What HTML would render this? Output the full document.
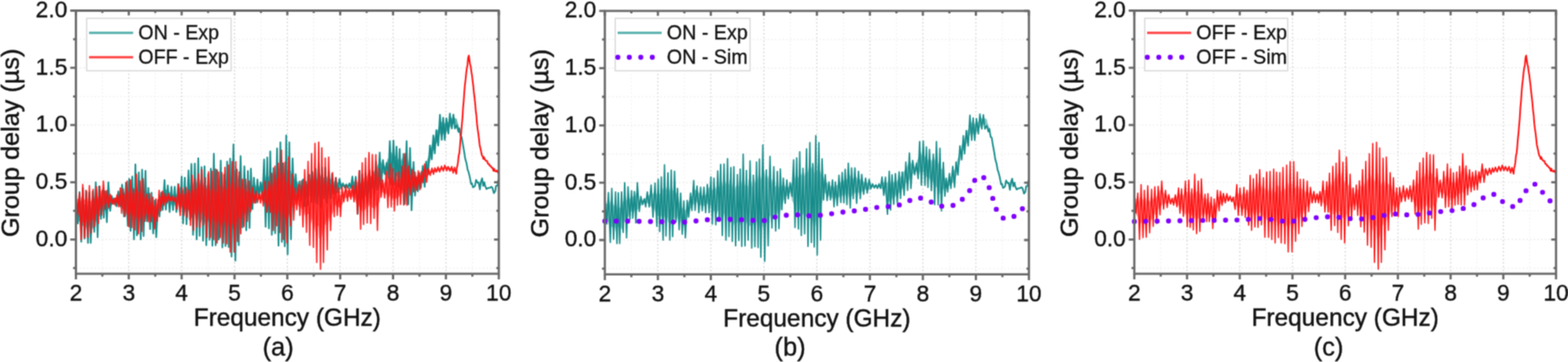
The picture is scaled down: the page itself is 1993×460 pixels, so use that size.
<!DOCTYPE html>
<html><head><meta charset="utf-8"><title>Group delay</title>
<style>html,body{margin:0;padding:0;background:#fff;}body{width:1993px;height:460px;overflow:hidden;}svg{display:block;}</style>
</head><body>
<svg width="1993" height="460" viewBox="0 0 1993 460" font-family='"Liberation Sans", Arial, sans-serif'><defs><filter id="bl" x="0" y="0" width="1993" height="460" color-interpolation-filters="sRGB" filterUnits="userSpaceOnUse"><feConvolveMatrix order="3" kernelMatrix="0.04387 0.12171 0.04387 0.12171 0.33767 0.12171 0.04387 0.12171 0.04387" edgeMode="duplicate" preserveAlpha="true"/></filter></defs><rect width="100%" height="100%" fill="#fff"/><g filter="url(#bl)"><rect width="1993" height="460" fill="#fff"/><g stroke-width="1.4" stroke-dasharray="2 2.7" fill="none"><line x1="130.1" y1="13.5" x2="130.1" y2="347.9" stroke="#f2f2f2"/><line x1="163.7" y1="13.5" x2="163.7" y2="347.9" stroke="#d9d9d9" stroke-width="1.6"/><line x1="197.3" y1="13.5" x2="197.3" y2="347.9" stroke="#f2f2f2"/><line x1="230.9" y1="13.5" x2="230.9" y2="347.9" stroke="#d9d9d9" stroke-width="1.6"/><line x1="264.5" y1="13.5" x2="264.5" y2="347.9" stroke="#f2f2f2"/><line x1="298.1" y1="13.5" x2="298.1" y2="347.9" stroke="#d9d9d9" stroke-width="1.6"/><line x1="331.7" y1="13.5" x2="331.7" y2="347.9" stroke="#f2f2f2"/><line x1="365.2" y1="13.5" x2="365.2" y2="347.9" stroke="#d9d9d9" stroke-width="1.6"/><line x1="398.8" y1="13.5" x2="398.8" y2="347.9" stroke="#f2f2f2"/><line x1="432.4" y1="13.5" x2="432.4" y2="347.9" stroke="#d9d9d9" stroke-width="1.6"/><line x1="466.0" y1="13.5" x2="466.0" y2="347.9" stroke="#f2f2f2"/><line x1="499.6" y1="13.5" x2="499.6" y2="347.9" stroke="#d9d9d9" stroke-width="1.6"/><line x1="533.2" y1="13.5" x2="533.2" y2="347.9" stroke="#f2f2f2"/><line x1="566.8" y1="13.5" x2="566.8" y2="347.9" stroke="#d9d9d9" stroke-width="1.6"/><line x1="600.4" y1="13.5" x2="600.4" y2="347.9" stroke="#f2f2f2"/><line x1="96.5" y1="340.7" x2="634.0" y2="340.7" stroke="#f0f0f0"/><line x1="96.5" y1="304.3" x2="634.0" y2="304.3" stroke="#ebebeb"/><line x1="96.5" y1="267.9" x2="634.0" y2="267.9" stroke="#f0f0f0"/><line x1="96.5" y1="231.6" x2="634.0" y2="231.6" stroke="#ebebeb"/><line x1="96.5" y1="195.2" x2="634.0" y2="195.2" stroke="#f0f0f0"/><line x1="96.5" y1="158.9" x2="634.0" y2="158.9" stroke="#ebebeb"/><line x1="96.5" y1="122.6" x2="634.0" y2="122.6" stroke="#f0f0f0"/><line x1="96.5" y1="86.2" x2="634.0" y2="86.2" stroke="#ebebeb"/><line x1="96.5" y1="49.8" x2="634.0" y2="49.8" stroke="#f0f0f0"/></g>
<g stroke-width="1.4" stroke-dasharray="2 2.7" fill="none"><line x1="802.5" y1="13.8" x2="802.5" y2="348.7" stroke="#f2f2f2"/><line x1="836.2" y1="13.8" x2="836.2" y2="348.7" stroke="#d9d9d9" stroke-width="1.6"/><line x1="869.9" y1="13.8" x2="869.9" y2="348.7" stroke="#f2f2f2"/><line x1="903.5" y1="13.8" x2="903.5" y2="348.7" stroke="#d9d9d9" stroke-width="1.6"/><line x1="937.2" y1="13.8" x2="937.2" y2="348.7" stroke="#f2f2f2"/><line x1="970.9" y1="13.8" x2="970.9" y2="348.7" stroke="#d9d9d9" stroke-width="1.6"/><line x1="1004.6" y1="13.8" x2="1004.6" y2="348.7" stroke="#f2f2f2"/><line x1="1038.3" y1="13.8" x2="1038.3" y2="348.7" stroke="#d9d9d9" stroke-width="1.6"/><line x1="1072.0" y1="13.8" x2="1072.0" y2="348.7" stroke="#f2f2f2"/><line x1="1105.7" y1="13.8" x2="1105.7" y2="348.7" stroke="#d9d9d9" stroke-width="1.6"/><line x1="1139.4" y1="13.8" x2="1139.4" y2="348.7" stroke="#f2f2f2"/><line x1="1173.0" y1="13.8" x2="1173.0" y2="348.7" stroke="#d9d9d9" stroke-width="1.6"/><line x1="1206.7" y1="13.8" x2="1206.7" y2="348.7" stroke="#f2f2f2"/><line x1="1240.4" y1="13.8" x2="1240.4" y2="348.7" stroke="#d9d9d9" stroke-width="1.6"/><line x1="1274.1" y1="13.8" x2="1274.1" y2="348.7" stroke="#f2f2f2"/><line x1="768.8" y1="341.4" x2="1307.8" y2="341.4" stroke="#f0f0f0"/><line x1="768.8" y1="305.0" x2="1307.8" y2="305.0" stroke="#ebebeb"/><line x1="768.8" y1="268.6" x2="1307.8" y2="268.6" stroke="#f0f0f0"/><line x1="768.8" y1="232.2" x2="1307.8" y2="232.2" stroke="#ebebeb"/><line x1="768.8" y1="195.8" x2="1307.8" y2="195.8" stroke="#f0f0f0"/><line x1="768.8" y1="159.4" x2="1307.8" y2="159.4" stroke="#ebebeb"/><line x1="768.8" y1="123.0" x2="1307.8" y2="123.0" stroke="#f0f0f0"/><line x1="768.8" y1="86.6" x2="1307.8" y2="86.6" stroke="#ebebeb"/><line x1="768.8" y1="50.2" x2="1307.8" y2="50.2" stroke="#f0f0f0"/></g>
<g stroke-width="1.4" stroke-dasharray="2 2.7" fill="none"><line x1="1475.3" y1="13.5" x2="1475.3" y2="347.9" stroke="#f2f2f2"/><line x1="1508.8" y1="13.5" x2="1508.8" y2="347.9" stroke="#d9d9d9" stroke-width="1.6"/><line x1="1542.3" y1="13.5" x2="1542.3" y2="347.9" stroke="#f2f2f2"/><line x1="1575.8" y1="13.5" x2="1575.8" y2="347.9" stroke="#d9d9d9" stroke-width="1.6"/><line x1="1609.3" y1="13.5" x2="1609.3" y2="347.9" stroke="#f2f2f2"/><line x1="1642.8" y1="13.5" x2="1642.8" y2="347.9" stroke="#d9d9d9" stroke-width="1.6"/><line x1="1676.3" y1="13.5" x2="1676.3" y2="347.9" stroke="#f2f2f2"/><line x1="1709.8" y1="13.5" x2="1709.8" y2="347.9" stroke="#d9d9d9" stroke-width="1.6"/><line x1="1743.3" y1="13.5" x2="1743.3" y2="347.9" stroke="#f2f2f2"/><line x1="1776.8" y1="13.5" x2="1776.8" y2="347.9" stroke="#d9d9d9" stroke-width="1.6"/><line x1="1810.3" y1="13.5" x2="1810.3" y2="347.9" stroke="#f2f2f2"/><line x1="1843.8" y1="13.5" x2="1843.8" y2="347.9" stroke="#d9d9d9" stroke-width="1.6"/><line x1="1877.3" y1="13.5" x2="1877.3" y2="347.9" stroke="#f2f2f2"/><line x1="1910.8" y1="13.5" x2="1910.8" y2="347.9" stroke="#d9d9d9" stroke-width="1.6"/><line x1="1944.3" y1="13.5" x2="1944.3" y2="347.9" stroke="#f2f2f2"/><line x1="1441.8" y1="340.7" x2="1977.8" y2="340.7" stroke="#f0f0f0"/><line x1="1441.8" y1="304.3" x2="1977.8" y2="304.3" stroke="#ebebeb"/><line x1="1441.8" y1="267.9" x2="1977.8" y2="267.9" stroke="#f0f0f0"/><line x1="1441.8" y1="231.6" x2="1977.8" y2="231.6" stroke="#ebebeb"/><line x1="1441.8" y1="195.2" x2="1977.8" y2="195.2" stroke="#f0f0f0"/><line x1="1441.8" y1="158.9" x2="1977.8" y2="158.9" stroke="#ebebeb"/><line x1="1441.8" y1="122.6" x2="1977.8" y2="122.6" stroke="#f0f0f0"/><line x1="1441.8" y1="86.2" x2="1977.8" y2="86.2" stroke="#ebebeb"/><line x1="1441.8" y1="49.8" x2="1977.8" y2="49.8" stroke="#f0f0f0"/></g>
<path d="M96.5 258.5 L97.2 259.5 L97.8 256.8 L98.5 258.6 L99.2 257.7 L99.9 258.0 L100.5 257.1 L101.2 255.2 L101.9 258.5 L102.5 260.3 L103.2 255.0 L103.9 254.6 L104.6 256.3 L105.2 259.5 L105.9 262.8 L106.6 255.8 L107.2 260.1 L107.9 259.4 L108.6 261.6 L109.3 257.8 L109.9 259.1 L110.6 257.7 L111.3 260.0 L112.0 264.7 L112.6 258.9 L113.3 261.8 L114.0 262.6 L114.6 262.5 L115.3 263.4 L116.0 264.5 L116.7 263.0 L117.3 258.0 L118.0 257.2 L118.7 260.1 L119.3 255.3 L120.0 253.9 L120.7 256.5 L121.4 254.6 L122.0 253.6 L122.7 250.4 L123.4 248.8 L124.0 253.7 L124.7 253.2 L125.4 252.5 L126.1 254.0 L126.7 251.9 L127.4 252.0 L128.1 252.2 L128.7 249.8 L129.4 250.7 L130.1 252.0 L130.8 250.5 L131.4 251.4 L132.1 248.9 L132.8 247.8 L133.5 249.9 L134.1 246.8 L134.8 247.8 L135.5 248.1 L136.1 243.9 L136.8 243.9 L137.5 245.2 L138.2 247.4 L138.8 250.2 L139.5 253.1 L140.2 254.0 L140.8 253.9 L141.5 254.4 L142.2 254.4 L142.9 253.8 L143.5 254.4 L144.2 254.3 L144.9 253.8 L145.5 252.9 L146.2 252.2 L146.9 252.0 L147.6 251.1 L148.2 250.8 L148.9 249.4 L149.6 248.6 L150.2 249.1 L150.9 247.6 L151.6 247.8 L152.3 247.2 L152.9 246.5 L153.6 248.7 L154.3 247.5 L155.0 244.7 L155.6 246.8 L156.3 244.0 L157.0 246.6 L157.6 243.1 L158.3 245.8 L159.0 245.3 L159.7 246.9 L160.3 242.7 L161.0 244.9 L161.7 246.2 L162.3 245.5 L163.0 241.3 L163.7 241.4 L164.4 243.7 L165.0 240.7 L165.7 245.9 L166.4 245.4 L167.0 247.1 L167.7 242.2 L168.4 239.0 L169.1 239.5 L169.7 237.9 L170.4 240.8 L171.1 241.0 L171.7 236.8 L172.4 232.8 L173.1 236.5 L173.8 237.1 L174.4 240.7 L175.1 239.4 L175.8 236.8 L176.5 237.1 L177.1 236.6 L177.8 242.8 L178.5 236.6 L179.1 242.8 L179.8 237.0 L180.5 243.3 L181.2 237.8 L181.8 237.4 L182.5 241.4 L183.2 241.4 L183.8 242.8 L184.5 244.7 L185.2 238.5 L185.9 247.9 L186.5 243.8 L187.2 244.3 L187.9 248.3 L188.5 246.7 L189.2 248.5 L189.9 249.8 L190.6 254.0 L191.2 257.4 L191.9 257.3 L192.6 255.1 L193.2 257.3 L193.9 262.6 L194.6 264.3 L195.3 262.8 L195.9 265.7 L196.6 264.5 L197.3 266.0 L198.0 266.0 L198.6 267.1 L199.3 264.3 L200.0 261.8 L200.6 261.6 L201.3 256.9 L202.0 256.9 L202.7 255.7 L203.3 254.3 L204.0 254.1 L204.7 252.8 L205.3 248.5 L206.0 248.6 L206.7 249.4 L207.4 246.1 L208.0 242.8 L208.7 242.9 L209.4 243.4 L210.0 242.2 L210.7 240.2 L211.4 241.0 L212.1 240.8 L212.7 240.0 L213.4 241.0 L214.1 241.3 L214.7 242.8 L215.4 244.1 L216.1 244.6 L216.8 245.4 L217.4 246.5 L218.1 247.8 L218.8 245.3 L219.5 247.3 L220.1 247.9 L220.8 247.8 L221.5 247.8 L222.1 247.0 L222.8 247.1 L223.5 246.9 L224.2 247.6 L224.8 246.2 L225.5 244.5 L226.2 240.3 L226.8 242.0 L227.5 237.9 L228.2 238.8 L228.9 237.4 L229.5 235.9 L230.2 239.8 L230.9 237.9 L231.5 241.7 L232.2 242.2 L232.9 239.3 L233.6 242.0 L234.2 239.3 L234.9 238.5 L235.6 239.1 L236.2 241.7 L236.9 236.2 L237.6 240.2 L238.3 235.3 L238.9 239.9 L239.6 237.6 L240.3 234.5 L241.0 237.1 L241.6 237.4 L242.3 231.1 L243.0 235.0 L243.6 235.5 L244.3 232.1 L245.0 228.9 L245.7 234.6 L246.3 236.6 L247.0 232.2 L247.7 225.9 L248.3 236.2 L249.0 229.1 L249.7 233.7 L250.4 228.0 L251.0 235.0 L251.7 233.3 L252.4 225.0 L253.0 232.1 L253.7 234.4 L254.4 228.9 L255.1 227.5 L255.7 238.4 L256.4 231.6 L257.1 239.7 L257.7 235.4 L258.4 230.8 L259.1 239.5 L259.8 234.8 L260.4 241.0 L261.1 234.4 L261.8 241.3 L262.5 234.2 L263.1 237.2 L263.8 234.2 L264.5 239.2 L265.1 238.7 L265.8 232.1 L266.5 238.0 L267.2 228.5 L267.8 233.3 L268.5 231.7 L269.2 236.0 L269.8 229.5 L270.5 232.2 L271.2 223.8 L271.9 233.0 L272.5 225.6 L273.2 228.1 L273.9 234.6 L274.5 235.9 L275.2 232.8 L275.9 236.5 L276.6 234.3 L277.2 233.5 L277.9 237.8 L278.6 227.3 L279.2 227.8 L279.9 229.5 L280.6 232.6 L281.3 228.6 L281.9 233.1 L282.6 228.9 L283.3 239.0 L284.0 234.3 L284.6 237.8 L285.3 225.1 L286.0 226.1 L286.6 232.5 L287.3 227.0 L288.0 232.0 L288.7 230.8 L289.3 233.0 L290.0 233.5 L290.7 221.6 L291.3 228.4 L292.0 219.5 L292.7 219.0 L293.4 227.2 L294.0 221.5 L294.7 226.0 L295.4 228.1 L296.0 221.3 L296.7 217.0 L297.4 230.2 L298.1 216.2 L298.7 217.1 L299.4 221.0 L300.1 225.0 L300.7 231.6 L301.4 226.0 L302.1 228.2 L302.8 223.1 L303.4 223.0 L304.1 226.8 L304.8 231.9 L305.5 223.7 L306.1 226.5 L306.8 232.3 L307.5 225.8 L308.1 233.1 L308.8 226.9 L309.5 229.0 L310.2 228.5 L310.8 231.8 L311.5 233.7 L312.2 236.3 L312.8 236.4 L313.5 234.6 L314.2 230.0 L314.9 233.9 L315.5 233.5 L316.2 232.6 L316.9 238.5 L317.5 237.0 L318.2 236.0 L318.9 233.0 L319.6 236.3 L320.2 234.0 L320.9 236.5 L321.6 235.3 L322.2 236.1 L322.9 237.4 L323.6 234.4 L324.3 236.4 L324.9 234.6 L325.6 237.8 L326.3 234.7 L327.0 237.0 L327.6 235.2 L328.3 237.6 L329.0 237.0 L329.6 236.6 L330.3 235.5 L331.0 237.1 L331.7 236.5 L332.3 233.9 L333.0 232.5 L333.7 231.6 L334.3 233.4 L335.0 227.8 L335.7 223.7 L336.4 229.8 L337.0 221.0 L337.7 225.1 L338.4 227.9 L339.0 227.6 L339.7 227.0 L340.4 227.7 L341.1 224.7 L341.7 225.0 L342.4 220.4 L343.1 222.9 L343.7 216.7 L344.4 221.8 L345.1 219.7 L345.8 222.1 L346.4 221.7 L347.1 214.8 L347.8 224.8 L348.5 217.5 L349.1 219.9 L349.8 223.6 L350.5 219.2 L351.1 218.3 L351.8 214.6 L352.5 211.6 L353.2 218.5 L353.8 217.7 L354.5 211.5 L355.2 223.4 L355.8 211.0 L356.5 210.2 L357.2 215.5 L357.9 210.2 L358.5 214.2 L359.2 208.2 L359.9 219.0 L360.5 207.2 L361.2 210.2 L361.9 219.0 L362.6 219.0 L363.2 222.1 L363.9 214.0 L364.6 216.3 L365.2 218.0 L365.9 214.8 L366.6 207.3 L367.3 207.9 L367.9 209.2 L368.6 217.7 L369.3 217.9 L370.0 215.7 L370.6 221.5 L371.3 219.5 L372.0 226.6 L372.6 227.2 L373.3 222.7 L374.0 225.9 L374.7 227.8 L375.3 232.0 L376.0 231.2 L376.7 232.0 L377.3 230.8 L378.0 230.6 L378.7 232.2 L379.4 233.8 L380.0 233.4 L380.7 234.1 L381.4 233.8 L382.0 235.4 L382.7 236.5 L383.4 234.7 L384.1 235.3 L384.7 235.6 L385.4 238.0 L386.1 237.8 L386.7 237.7 L387.4 235.7 L388.1 237.4 L388.8 237.0 L389.4 234.7 L390.1 235.0 L390.8 234.7 L391.5 234.3 L392.1 233.0 L392.8 232.0 L393.5 233.4 L394.1 230.8 L394.8 231.8 L395.5 230.4 L396.2 229.4 L396.8 230.5 L397.5 230.8 L398.2 227.8 L398.8 230.3 L399.5 228.4 L400.2 226.0 L400.9 225.7 L401.5 226.2 L402.2 227.5 L402.9 226.4 L403.5 227.3 L404.2 226.7 L404.9 225.8 L405.6 221.1 L406.2 220.8 L406.9 221.1 L407.6 223.7 L408.2 225.1 L408.9 223.6 L409.6 224.4 L410.3 222.8 L410.9 226.5 L411.6 225.7 L412.3 225.2 L413.0 223.8 L413.6 222.7 L414.3 226.3 L415.0 225.0 L415.6 223.8 L416.3 227.1 L417.0 227.9 L417.7 224.7 L418.3 227.9 L419.0 226.1 L419.7 226.9 L420.3 227.6 L421.0 227.6 L421.7 228.8 L422.4 228.4 L423.0 229.6 L423.7 229.4 L424.4 229.8 L425.0 231.9 L425.7 230.5 L426.4 232.2 L427.1 230.7 L427.7 231.5 L428.4 232.3 L429.1 232.2 L429.7 231.2 L430.4 233.1 L431.1 232.2 L431.8 233.1 L432.4 231.8 L433.1 232.2 L433.8 233.6 L434.5 234.1 L435.1 234.5 L435.8 234.9 L436.5 234.5 L437.1 234.8 L437.8 234.4 L438.5 234.8 L439.2 234.5 L439.8 234.8 L440.5 235.0 L441.2 234.5 L441.8 234.8 L442.5 234.7 L443.2 234.6 L443.9 234.7 L444.5 235.0 L445.2 234.7 L445.9 234.7 L446.5 233.4 L447.2 233.0 L447.9 232.3 L448.6 232.4 L449.2 230.5 L449.9 231.3 L450.6 230.4 L451.2 232.5 L451.9 232.3 L452.6 231.1 L453.3 231.2 L453.9 232.6 L454.6 230.9 L455.3 229.5 L456.0 234.0 L456.6 234.4 L457.3 232.2 L458.0 233.3 L458.6 232.7 L459.3 229.3 L460.0 229.8 L460.7 229.5 L461.3 233.2 L462.0 231.9 L462.7 230.5 L463.3 230.3 L464.0 230.1 L464.7 230.6 L465.4 231.8 L466.0 231.2 L466.7 229.8 L467.4 228.3 L468.0 227.5 L468.7 226.9 L469.4 225.6 L470.1 223.0 L470.7 222.4 L471.4 225.3 L472.1 223.4 L472.7 222.9 L473.4 221.4 L474.1 217.8 L474.8 217.9 L475.4 217.6 L476.1 215.8 L476.8 216.4 L477.5 213.7 L478.1 214.7 L478.8 213.8 L479.5 211.7 L480.1 209.9 L480.8 208.0 L481.5 206.2 L482.2 205.6 L482.8 206.1 L483.5 204.7 L484.2 205.7 L484.8 206.2 L485.5 208.2 L486.2 209.2 L486.9 209.5 L487.5 210.1 L488.2 209.8 L488.9 211.3 L489.5 211.6 L490.2 209.8 L490.9 207.7 L491.6 206.0 L492.2 203.6 L492.9 200.7 L493.6 203.0 L494.2 199.9 L494.9 199.0 L495.6 198.2 L496.3 196.0 L496.9 192.4 L497.6 193.8 L498.3 196.7 L499.0 193.2 L499.6 196.7 L500.3 193.9 L501.0 198.7 L501.6 198.7 L502.3 198.3 L503.0 196.3 L503.7 197.9 L504.3 197.9 L505.0 203.3 L505.7 203.6 L506.3 201.2 L507.0 202.3 L507.7 203.5 L508.4 200.0 L509.0 204.9 L509.7 203.6 L510.4 201.3 L511.0 204.8 L511.7 198.9 L512.4 204.4 L513.1 198.1 L513.7 203.0 L514.4 198.3 L515.1 203.9 L515.7 200.6 L516.4 204.1 L517.1 201.9 L517.8 198.9 L518.4 203.3 L519.1 208.5 L519.8 203.2 L520.5 208.1 L521.1 207.9 L521.8 210.8 L522.5 214.0 L523.1 214.7 L523.8 212.3 L524.5 216.1 L525.2 219.9 L525.8 221.2 L526.5 223.7 L527.2 224.4 L527.8 226.0 L528.5 228.1 L529.2 227.7 L529.9 230.4 L530.5 230.5 L531.2 228.6 L531.9 227.6 L532.5 225.6 L533.2 224.3 L533.9 223.6 L534.6 224.0 L535.2 223.3 L535.9 220.4 L536.6 218.4 L537.2 219.6 L537.9 216.0 L538.6 215.7 L539.3 215.5 L539.9 215.6 L540.6 212.2 L541.3 208.7 L542.0 207.5 L542.6 204.8 L543.3 202.1 L544.0 200.5 L544.6 198.2 L545.3 196.5 L546.0 194.7 L546.7 192.4 L547.3 190.4 L548.0 188.6 L548.7 183.3 L549.3 183.7 L550.0 179.2 L550.7 179.8 L551.4 177.1 L552.0 176.8 L552.7 173.2 L553.4 171.4 L554.0 171.6 L554.7 169.3 L555.4 166.0 L556.1 165.5 L556.7 164.5 L557.4 162.6 L558.1 159.6 L558.7 159.8 L559.4 155.0 L560.1 153.8 L560.8 155.7 L561.4 154.3 L562.1 156.1 L562.8 156.9 L563.5 156.9 L564.1 155.2 L564.8 157.4 L565.5 155.9 L566.1 157.8 L566.8 157.4 L567.5 156.8 L568.2 156.6 L568.8 154.1 L569.5 155.7 L570.2 153.7 L570.8 152.6 L571.5 152.2 L572.2 151.8 L572.9 150.2 L573.5 149.6 L574.2 150.4 L574.9 149.7 L575.5 149.7 L576.2 151.0 L576.9 151.1 L577.6 149.5 L578.2 150.0 L578.9 150.1 L579.6 151.2 L580.2 150.0 L580.9 152.2 L581.6 155.3 L582.3 157.6 L582.9 159.3 L583.6 161.6 L583.6 165.6 L582.9 163.4 L582.3 162.1 L581.6 162.0 L580.9 158.9 L580.2 158.8 L579.6 158.3 L578.9 158.3 L578.2 157.6 L577.6 158.5 L576.9 158.1 L576.2 157.3 L575.5 157.8 L574.9 157.3 L574.2 158.9 L573.5 159.0 L572.9 160.4 L572.2 161.3 L571.5 161.9 L570.8 164.0 L570.2 163.7 L569.5 164.5 L568.8 166.5 L568.2 166.9 L567.5 167.8 L566.8 170.2 L566.1 168.8 L565.5 168.6 L564.8 169.5 L564.1 170.1 L563.5 171.0 L562.8 169.0 L562.1 168.0 L561.4 167.6 L560.8 170.3 L560.1 168.4 L559.4 170.7 L558.7 172.5 L558.1 174.6 L557.4 177.1 L556.7 176.0 L556.1 180.2 L555.4 181.4 L554.7 181.7 L554.0 184.0 L553.4 184.1 L552.7 188.1 L552.0 189.3 L551.4 190.6 L550.7 191.1 L550.0 192.8 L549.3 196.2 L548.7 199.3 L548.0 199.5 L547.3 202.2 L546.7 204.9 L546.0 208.0 L545.3 210.8 L544.6 214.0 L544.0 214.4 L543.3 217.8 L542.6 219.5 L542.0 223.3 L541.3 223.2 L540.6 225.9 L539.9 228.3 L539.3 229.6 L538.6 229.1 L537.9 231.6 L537.2 231.4 L536.6 232.4 L535.9 232.9 L535.2 232.0 L534.6 235.1 L533.9 235.5 L533.2 234.6 L532.5 235.2 L531.9 236.6 L531.2 236.6 L530.5 236.8 L529.9 238.9 L529.2 238.3 L528.5 240.3 L527.8 241.5 L527.2 242.6 L526.5 239.2 L525.8 239.7 L525.2 241.0 L524.5 242.0 L523.8 240.1 L523.1 246.5 L522.5 245.7 L521.8 244.9 L521.1 246.6 L520.5 240.9 L519.8 241.0 L519.1 237.2 L518.4 241.2 L517.8 239.1 L517.1 236.2 L516.4 238.5 L515.7 236.3 L515.1 238.3 L514.4 234.1 L513.7 233.8 L513.1 234.4 L512.4 229.3 L511.7 230.9 L511.0 230.3 L510.4 229.0 L509.7 228.8 L509.0 228.7 L508.4 224.7 L507.7 228.5 L507.0 224.5 L506.3 225.9 L505.7 225.9 L505.0 223.6 L504.3 224.2 L503.7 224.2 L503.0 223.3 L502.3 220.8 L501.6 220.7 L501.0 221.9 L500.3 217.3 L499.6 218.3 L499.0 220.5 L498.3 219.2 L497.6 221.5 L496.9 218.5 L496.3 218.4 L495.6 217.1 L494.9 221.1 L494.2 220.3 L493.6 218.7 L492.9 220.2 L492.2 219.6 L491.6 217.8 L490.9 216.8 L490.2 218.1 L489.5 217.5 L488.9 218.5 L488.2 219.8 L487.5 220.1 L486.9 220.1 L486.2 222.4 L485.5 221.6 L484.8 224.7 L484.2 224.5 L483.5 224.7 L482.8 226.6 L482.2 229.8 L481.5 226.0 L480.8 230.5 L480.1 229.7 L479.5 231.0 L478.8 230.3 L478.1 232.3 L477.5 231.7 L476.8 236.5 L476.1 235.6 L475.4 236.6 L474.8 237.8 L474.1 238.9 L473.4 239.6 L472.7 240.3 L472.1 241.0 L471.4 239.8 L470.7 241.4 L470.1 242.3 L469.4 244.0 L468.7 245.6 L468.0 244.8 L467.4 244.2 L466.7 244.3 L466.0 246.3 L465.4 247.3 L464.7 249.2 L464.0 249.9 L463.3 251.3 L462.7 251.2 L462.0 249.3 L461.3 250.1 L460.7 254.3 L460.0 250.8 L459.3 255.1 L458.6 251.8 L458.0 254.2 L457.3 256.0 L456.6 254.0 L456.0 257.1 L455.3 256.3 L454.6 255.4 L453.9 251.4 L453.3 251.8 L452.6 250.2 L451.9 246.5 L451.2 244.6 L450.6 244.8 L449.9 241.6 L449.2 240.9 L448.6 240.6 L447.9 238.7 L447.2 238.9 L446.5 237.9 L445.9 237.4 L445.2 237.3 L444.5 237.3 L443.9 237.0 L443.2 237.1 L442.5 237.3 L441.8 237.0 L441.2 237.4 L440.5 237.6 L439.8 237.5 L439.2 237.3 L438.5 237.4 L437.8 237.5 L437.1 237.1 L436.5 237.0 L435.8 237.5 L435.1 238.0 L434.5 238.5 L433.8 239.7 L433.1 241.0 L432.4 240.6 L431.8 240.2 L431.1 240.3 L430.4 240.2 L429.7 241.0 L429.1 241.1 L428.4 239.6 L427.7 241.2 L427.1 239.8 L426.4 240.0 L425.7 240.9 L425.0 240.0 L424.4 241.5 L423.7 242.2 L423.0 243.1 L422.4 243.7 L421.7 241.2 L421.0 244.5 L420.3 243.6 L419.7 243.2 L419.0 243.9 L418.3 245.5 L417.7 242.5 L417.0 246.7 L416.3 244.7 L415.6 243.9 L415.0 243.6 L414.3 243.3 L413.6 245.5 L413.0 244.0 L412.3 247.1 L411.6 246.5 L410.9 245.0 L410.3 245.7 L409.6 248.1 L408.9 249.6 L408.2 245.5 L407.6 244.7 L406.9 245.6 L406.2 249.8 L405.6 250.7 L404.9 245.2 L404.2 245.2 L403.5 245.1 L402.9 249.3 L402.2 249.8 L401.5 248.2 L400.9 245.5 L400.2 249.0 L399.5 247.6 L398.8 247.5 L398.2 246.6 L397.5 249.2 L396.8 247.6 L396.2 246.7 L395.5 250.3 L394.8 247.1 L394.1 248.2 L393.5 250.0 L392.8 251.1 L392.1 248.4 L391.5 249.3 L390.8 249.8 L390.1 250.3 L389.4 249.3 L388.8 253.4 L388.1 249.9 L387.4 253.4 L386.7 253.7 L386.1 253.4 L385.4 251.5 L384.7 250.3 L384.1 251.3 L383.4 251.3 L382.7 249.6 L382.0 249.4 L381.4 248.0 L380.7 250.0 L380.0 246.9 L379.4 249.4 L378.7 246.3 L378.0 246.4 L377.3 247.9 L376.7 245.0 L376.0 244.6 L375.3 244.2 L374.7 249.2 L374.0 252.2 L373.3 255.3 L372.6 251.9 L372.0 257.8 L371.3 255.3 L370.6 264.2 L370.0 263.2 L369.3 263.7 L368.6 274.7 L367.9 277.9 L367.3 269.3 L366.6 280.1 L365.9 271.6 L365.2 270.6 L364.6 286.6 L363.9 287.2 L363.2 280.5 L362.6 281.1 L361.9 282.1 L361.2 272.4 L360.5 286.9 L359.9 276.6 L359.2 282.9 L358.5 273.4 L357.9 271.8 L357.2 281.3 L356.5 275.9 L355.8 270.9 L355.2 271.6 L354.5 272.9 L353.8 273.5 L353.2 269.4 L352.5 279.9 L351.8 273.6 L351.1 275.0 L350.5 274.2 L349.8 275.0 L349.1 271.3 L348.5 266.9 L347.8 272.0 L347.1 272.2 L346.4 267.5 L345.8 274.3 L345.1 275.2 L344.4 274.3 L343.7 267.9 L343.1 265.0 L342.4 263.2 L341.7 264.0 L341.1 272.1 L340.4 264.1 L339.7 271.6 L339.0 267.5 L338.4 261.3 L337.7 263.7 L337.0 267.8 L336.4 266.5 L335.7 259.3 L335.0 256.3 L334.3 255.3 L333.7 254.0 L333.0 248.8 L332.3 247.6 L331.7 243.8 L331.0 244.1 L330.3 245.0 L329.6 245.6 L329.0 245.8 L328.3 247.0 L327.6 248.0 L327.0 249.2 L326.3 249.1 L325.6 248.0 L324.9 248.9 L324.3 253.4 L323.6 253.0 L322.9 254.2 L322.2 258.3 L321.6 257.5 L320.9 263.3 L320.2 259.9 L319.6 268.0 L318.9 265.3 L318.2 271.2 L317.5 268.2 L316.9 265.2 L316.2 265.3 L315.5 271.9 L314.9 267.8 L314.2 273.5 L313.5 273.4 L312.8 274.4 L312.2 266.0 L311.5 272.3 L310.8 273.8 L310.2 271.8 L309.5 275.6 L308.8 269.7 L308.1 278.0 L307.5 281.2 L306.8 282.7 L306.1 273.2 L305.5 274.7 L304.8 283.9 L304.1 281.4 L303.4 278.8 L302.8 281.3 L302.1 282.8 L301.4 282.0 L300.7 285.2 L300.1 288.1 L299.4 295.6 L298.7 292.2 L298.1 284.5 L297.4 292.7 L296.7 287.8 L296.0 285.2 L295.4 282.0 L294.7 284.4 L294.0 293.7 L293.4 280.2 L292.7 294.2 L292.0 283.0 L291.3 288.6 L290.7 287.0 L290.0 284.6 L289.3 281.3 L288.7 281.6 L288.0 288.1 L287.3 288.7 L286.6 291.7 L286.0 280.8 L285.3 285.8 L284.6 285.3 L284.0 279.9 L283.3 285.9 L282.6 284.8 L281.9 287.1 L281.3 285.4 L280.6 286.5 L279.9 285.2 L279.2 287.7 L278.6 288.6 L277.9 280.5 L277.2 280.6 L276.6 282.8 L275.9 283.9 L275.2 279.6 L274.5 285.8 L273.9 276.1 L273.2 282.7 L272.5 276.4 L271.9 283.4 L271.2 277.5 L270.5 286.0 L269.8 275.2 L269.2 275.6 L268.5 284.9 L267.8 285.0 L267.2 282.6 L266.5 282.6 L265.8 283.4 L265.1 282.5 L264.5 280.7 L263.8 282.5 L263.1 283.2 L262.5 281.2 L261.8 289.4 L261.1 285.1 L260.4 282.2 L259.8 286.6 L259.1 278.1 L258.4 277.9 L257.7 278.4 L257.1 278.1 L256.4 278.9 L255.7 283.6 L255.1 281.5 L254.4 280.8 L253.7 282.0 L253.0 282.6 L252.4 271.3 L251.7 278.4 L251.0 279.4 L250.4 276.6 L249.7 279.8 L249.0 279.3 L248.3 275.7 L247.7 270.3 L247.0 274.5 L246.3 278.9 L245.7 277.0 L245.0 269.9 L244.3 274.0 L243.6 278.2 L243.0 277.1 L242.3 274.5 L241.6 274.6 L241.0 273.9 L240.3 267.7 L239.6 266.9 L238.9 270.2 L238.3 271.2 L237.6 266.8 L236.9 267.4 L236.2 267.2 L235.6 270.9 L234.9 266.7 L234.2 269.7 L233.6 266.1 L232.9 268.1 L232.2 263.5 L231.5 259.6 L230.9 262.6 L230.2 258.2 L229.5 255.9 L228.9 257.2 L228.2 256.6 L227.5 257.5 L226.8 259.0 L226.2 257.1 L225.5 259.4 L224.8 259.4 L224.2 260.0 L223.5 261.4 L222.8 260.9 L222.1 262.1 L221.5 259.9 L220.8 259.5 L220.1 258.9 L219.5 261.7 L218.8 260.0 L218.1 259.7 L217.4 260.7 L216.8 260.8 L216.1 258.7 L215.4 260.7 L214.7 259.5 L214.1 257.4 L213.4 256.9 L212.7 256.0 L212.1 255.8 L211.4 258.0 L210.7 256.4 L210.0 257.2 L209.4 259.9 L208.7 258.7 L208.0 258.7 L207.4 263.1 L206.7 263.1 L206.0 263.4 L205.3 263.8 L204.7 265.0 L204.0 268.2 L203.3 267.3 L202.7 270.9 L202.0 272.0 L201.3 274.3 L200.6 277.8 L200.0 281.7 L199.3 281.6 L198.6 286.0 L198.0 287.4 L197.3 289.2 L196.6 285.0 L195.9 285.3 L195.3 284.1 L194.6 283.1 L193.9 282.3 L193.2 280.4 L192.6 282.5 L191.9 277.2 L191.2 277.4 L190.6 275.7 L189.9 278.6 L189.2 279.4 L188.5 274.0 L187.9 279.1 L187.2 275.0 L186.5 273.8 L185.9 276.0 L185.2 279.1 L184.5 277.1 L183.8 274.2 L183.2 278.9 L182.5 274.0 L181.8 279.9 L181.2 280.5 L180.5 283.6 L179.8 281.2 L179.1 275.5 L178.5 282.8 L177.8 281.2 L177.1 282.4 L176.5 281.1 L175.8 275.8 L175.1 277.4 L174.4 275.2 L173.8 281.7 L173.1 280.4 L172.4 274.6 L171.7 275.2 L171.1 272.8 L170.4 277.9 L169.7 275.7 L169.1 277.2 L168.4 276.0 L167.7 273.6 L167.0 273.1 L166.4 273.3 L165.7 269.7 L165.0 271.9 L164.4 274.0 L163.7 273.4 L163.0 269.1 L162.3 269.6 L161.7 267.0 L161.0 270.5 L160.3 268.4 L159.7 266.3 L159.0 264.0 L158.3 263.7 L157.6 266.1 L157.0 265.2 L156.3 263.7 L155.6 262.8 L155.0 261.6 L154.3 261.5 L153.6 259.2 L152.9 258.8 L152.3 259.8 L151.6 258.7 L150.9 257.6 L150.2 257.5 L149.6 256.9 L148.9 256.4 L148.2 257.3 L147.6 256.3 L146.9 256.6 L146.2 257.0 L145.5 256.9 L144.9 257.4 L144.2 258.2 L143.5 259.0 L142.9 260.2 L142.2 260.6 L141.5 261.9 L140.8 261.8 L140.2 263.8 L139.5 264.4 L138.8 265.4 L138.2 265.8 L137.5 266.1 L136.8 268.7 L136.1 270.5 L135.5 268.4 L134.8 270.8 L134.1 266.2 L133.5 267.3 L132.8 269.1 L132.1 267.0 L131.4 269.9 L130.8 268.8 L130.1 267.4 L129.4 268.9 L128.7 272.5 L128.1 269.6 L127.4 272.4 L126.7 275.8 L126.1 273.5 L125.4 276.9 L124.7 274.7 L124.0 280.9 L123.4 282.4 L122.7 283.1 L122.0 279.9 L121.4 280.7 L120.7 281.6 L120.0 284.7 L119.3 288.3 L118.7 290.2 L118.0 291.7 L117.3 288.5 L116.7 290.0 L116.0 288.5 L115.3 292.8 L114.6 290.8 L114.0 287.0 L113.3 287.6 L112.6 287.6 L112.0 290.5 L111.3 287.3 L110.6 293.9 L109.9 291.4 L109.3 287.9 L108.6 288.1 L107.9 293.5 L107.2 292.8 L106.6 289.8 L105.9 287.1 L105.2 287.3 L104.6 288.6 L103.9 288.9 L103.2 287.2 L102.5 288.2 L101.9 286.8 L101.2 283.3 L100.5 280.9 L99.9 280.8 L99.2 282.3 L98.5 279.4 L97.8 275.8 L97.2 274.5 L96.5 272.9Z" fill="#45a4a2" fill-opacity="0.8"/>
<polyline points="96.5,248.3 99.0,283.9 101.1,244.0 103.3,307.2 105.3,238.9 107.5,303.2 110.0,243.2 111.8,308.7 113.6,244.4 115.3,308.7 117.7,243.2 119.8,294.6 121.7,231.6 124.1,301.4 125.9,236.8 128.3,278.1 130.3,241.8 131.9,276.6 134.0,242.8 135.8,282.5 137.7,231.6 140.1,267.9 142.0,249.0 144.4,259.2 146.4,252.0 148.2,262.1 150.3,243.2 152.8,262.4 155.2,234.5 157.6,275.2 160.1,232.1 162.4,286.9 164.2,227.2 166.0,293.4 168.1,224.3 170.3,304.3 172.1,208.9 174.0,299.1 176.4,219.0 178.9,304.3 180.6,215.6 182.5,299.9 184.9,217.1 186.7,281.3 188.6,238.9 190.8,291.2 192.6,244.8 194.7,296.8 196.7,254.9 198.6,301.4 200.9,254.1 202.7,275.2 205.1,244.7 206.8,266.8 209.1,228.7 210.8,266.5 213.3,235.6 215.6,269.4 217.9,237.4 219.9,267.0 222.1,237.4 224.2,269.4 226.5,233.7 228.8,269.4 230.9,224.3 232.7,283.9 234.9,225.8 237.1,285.0 239.6,216.6 241.5,279.0 243.3,208.3 245.4,298.5 247.6,207.9 250.0,304.3 252.0,201.1 253.8,299.8 256.2,212.2 258.1,306.0 260.0,211.2 262.2,311.6 264.6,221.2 266.3,304.8 268.0,214.2 270.0,312.3 271.8,195.2 274.1,311.7 275.9,216.0 278.1,304.4 280.6,204.0 282.6,314.5 284.7,222.0 286.6,312.7 288.7,205.3 290.7,313.9 292.5,201.6 294.3,326.1 296.7,183.6 299.2,331.2 301.2,215.3 303.5,311.6 305.8,198.2 308.3,289.0 310.6,211.2 313.0,292.7 315.1,217.3 317.2,289.8 318.9,214.2 320.9,265.6 322.7,225.8 325.1,257.8 327.2,228.0 329.0,252.0 331.3,231.6 333.7,249.0 335.7,202.5 337.6,288.3 339.7,200.1 341.8,290.2 343.5,192.3 345.5,298.5 347.6,213.5 349.7,296.4 352.2,188.5 354.0,312.3 356.4,180.7 358.3,307.4 360.0,207.3 361.9,313.1 363.8,172.0 365.6,323.2 367.7,180.7 369.8,304.3 371.9,201.4 373.7,253.4 375.8,221.4 378.2,254.1 380.6,230.5 382.6,253.4 385.1,228.0 386.9,262.1 388.7,230.6 391.1,260.7 393.3,222.1 395.6,256.7 397.3,218.5 399.4,257.0 401.2,214.6 403.3,259.2 405.1,206.9 407.5,263.6 409.3,212.8 411.3,251.9 413.4,212.7 415.6,257.8 418.0,217.1 420.3,251.9 422.1,221.1 424.5,246.1 426.9,225.8 429.1,244.7 431.5,227.2 433.8,238.9 435.8,233.1 438.1,238.3 440.1,234.3 442.0,238.9 444.0,233.1 445.9,238.9 447.9,224.3 450.0,247.6 452.2,224.5 454.7,271.6 457.0,217.1 458.7,266.2 460.5,221.5 462.6,258.8 464.8,220.0 467.2,257.0 469.5,217.7 471.3,251.6 473.4,218.1 475.9,247.6 478.0,205.4 480.3,241.3 482.6,193.8 484.4,238.9 486.7,203.3 489.1,221.4 491.5,206.9 493.6,226.4 495.5,179.3 497.7,234.5 500.1,178.5 502.3,234.9 504.0,186.2 506.1,237.4 508.0,189.4 510.3,241.5 512.8,195.5 514.6,259.2 516.8,179.3 519.0,259.6 521.2,188.0 523.1,267.2 525.6,205.8 527.5,248.7 529.2,225.8 531.0,243.2 533.2,219.9 535.0,238.8 537.4,210.8 539.8,237.4 541.6,205.4 544.0,221.8 546.5,184.9 548.8,202.5 550.8,172.0 552.6,195.0 554.6,165.4 557.0,184.9 559.2,145.8 561.5,177.8 563.3,149.5 565.3,177.8 567.4,150.2 569.9,169.7 571.8,144.4 574.3,163.3 576.3,145.5 578.3,163.3 580.4,158.9 582.8,167.6 583.8,163.0 585.5,173.2 586.8,174.3 588.5,184.2 590.1,193.5 591.3,201.6 593.0,207.5 594.4,215.6 595.4,218.1 596.9,223.9 598.8,233.7 599.9,233.0 601.1,238.0 602.3,237.6 603.7,236.3 605.1,228.6 607.0,232.2 608.3,231.8 610.0,240.7 611.3,230.8 612.8,226.5 614.2,236.2 615.6,231.5 616.7,236.4 618.4,240.2 619.7,239.2 621.2,238.7 622.6,238.6 624.5,237.3 625.9,238.7 627.7,245.4 629.4,243.1 630.5,236.2 632.4,235.7 633.4,228.4" fill="none" stroke="#168c8a" stroke-width="2.1" stroke-linejoin="round" />
<path d="M96.5 252.2 L97.2 253.2 L97.8 251.2 L98.5 252.9 L99.2 252.4 L99.9 252.8 L100.5 252.3 L101.2 250.6 L101.9 254.1 L102.5 256.1 L103.2 251.0 L103.9 250.2 L104.6 251.6 L105.2 254.5 L105.9 257.6 L106.6 250.0 L107.2 254.1 L107.9 253.0 L108.6 254.9 L109.3 250.7 L109.9 251.7 L110.6 250.3 L111.3 252.7 L112.0 257.5 L112.6 251.6 L113.3 254.5 L114.0 255.1 L114.6 254.7 L115.3 255.3 L116.0 256.0 L116.7 254.3 L117.3 250.7 L118.0 251.0 L118.7 254.3 L119.3 251.1 L120.0 250.8 L120.7 253.6 L121.4 252.8 L122.0 252.7 L122.7 250.1 L123.4 248.7 L124.0 251.4 L124.7 250.2 L125.4 248.8 L126.1 249.2 L126.7 246.6 L127.4 245.8 L128.1 245.1 L128.7 241.7 L129.4 241.7 L130.1 242.2 L130.8 241.8 L131.4 243.9 L132.1 242.8 L132.8 243.1 L133.5 245.8 L134.1 244.6 L134.8 246.2 L135.5 247.3 L136.1 246.1 L136.8 247.1 L137.5 247.4 L138.2 248.2 L138.8 249.3 L139.5 250.6 L140.2 250.7 L140.8 251.2 L141.5 252.3 L142.2 252.9 L142.9 253.1 L143.5 254.2 L144.2 253.7 L144.9 252.7 L145.5 251.9 L146.2 251.3 L146.9 251.3 L147.6 250.8 L148.2 250.8 L148.9 249.6 L149.6 249.1 L150.2 250.2 L150.9 248.4 L151.6 248.6 L152.3 248.0 L152.9 247.1 L153.6 249.4 L154.3 248.3 L155.0 245.5 L155.6 247.9 L156.3 245.1 L157.0 248.0 L157.6 244.4 L158.3 247.3 L159.0 246.9 L159.7 248.7 L160.3 244.3 L161.0 246.8 L161.7 248.2 L162.3 247.5 L163.0 243.4 L163.7 243.7 L164.4 245.9 L165.0 243.0 L165.7 247.7 L166.4 247.2 L167.0 248.6 L167.7 245.0 L168.4 243.0 L169.1 244.1 L169.7 243.4 L170.4 246.3 L171.1 247.0 L171.7 244.4 L172.4 240.7 L173.1 243.0 L173.8 242.9 L174.4 245.8 L175.1 244.8 L175.8 242.7 L176.5 243.1 L177.1 242.7 L177.8 247.6 L178.5 242.8 L179.1 247.6 L179.8 243.3 L180.5 248.1 L181.2 244.7 L181.8 245.2 L182.5 248.8 L183.2 249.4 L183.8 251.0 L184.5 252.1 L185.2 247.7 L185.9 253.9 L186.5 250.8 L187.2 251.0 L187.9 253.5 L188.5 252.1 L189.2 253.1 L189.9 253.8 L190.6 256.4 L191.2 258.5 L191.9 258.2 L192.6 256.3 L193.2 257.5 L193.9 261.1 L194.6 262.0 L195.3 260.5 L195.9 262.3 L196.6 261.0 L197.3 261.7 L198.0 261.5 L198.6 262.2 L199.3 259.7 L200.0 257.4 L200.6 257.0 L201.3 252.9 L202.0 252.7 L202.7 251.6 L203.3 250.2 L204.0 249.9 L204.7 249.9 L205.3 247.7 L206.0 248.8 L206.7 250.3 L207.4 249.1 L208.0 248.0 L208.7 249.0 L209.4 249.9 L210.0 250.0 L210.7 249.7 L211.4 249.8 L212.1 249.4 L212.7 248.8 L213.4 249.0 L214.1 248.9 L214.7 249.4 L215.4 249.9 L216.1 250.1 L216.8 250.4 L217.4 250.8 L218.1 251.4 L218.8 251.0 L219.5 251.8 L220.1 252.2 L220.8 252.4 L221.5 251.9 L222.1 251.1 L222.8 250.5 L223.5 249.8 L224.2 249.7 L224.8 249.1 L225.5 248.1 L226.2 245.0 L226.8 247.1 L227.5 243.8 L228.2 246.2 L228.9 246.4 L229.5 244.9 L230.2 247.7 L230.9 246.1 L231.5 248.7 L232.2 248.7 L232.9 246.6 L233.6 248.2 L234.2 246.4 L234.9 245.8 L235.6 246.2 L236.2 247.8 L236.9 244.2 L237.6 246.9 L238.3 243.5 L238.9 246.7 L239.6 245.1 L240.3 242.9 L241.0 244.8 L241.6 245.1 L242.3 240.4 L243.0 243.4 L243.6 243.8 L244.3 241.2 L245.0 238.7 L245.7 242.9 L246.3 244.2 L247.0 240.8 L247.7 236.0 L248.3 243.4 L249.0 238.1 L249.7 241.2 L250.4 237.0 L251.0 241.8 L251.7 239.8 L252.4 233.0 L253.0 237.2 L253.7 238.0 L254.4 233.2 L255.1 232.0 L255.7 239.9 L256.4 234.8 L257.1 240.7 L257.7 237.4 L258.4 233.8 L259.1 240.3 L259.8 236.5 L260.4 241.3 L261.1 236.0 L261.8 242.4 L262.5 237.7 L263.1 241.0 L263.8 239.7 L264.5 244.6 L265.1 244.8 L265.8 240.1 L266.5 245.3 L267.2 238.4 L267.8 242.7 L268.5 242.0 L269.2 245.9 L269.8 241.4 L270.5 244.0 L271.2 238.1 L271.9 244.8 L272.5 238.7 L273.2 240.2 L273.9 245.0 L274.5 245.7 L275.2 242.7 L275.9 245.3 L276.6 243.0 L277.2 241.8 L277.9 245.0 L278.6 235.6 L279.2 235.5 L279.9 236.5 L280.6 238.6 L281.3 234.7 L281.9 238.9 L282.6 235.7 L283.3 244.5 L284.0 240.9 L284.6 244.0 L285.3 234.0 L286.0 235.1 L286.6 240.6 L287.3 236.4 L288.0 240.7 L288.7 240.1 L289.3 242.2 L290.0 242.8 L290.7 233.4 L291.3 239.3 L292.0 232.4 L292.7 232.2 L293.4 239.2 L294.0 234.8 L294.7 238.7 L295.4 240.4 L296.0 234.9 L296.7 231.4 L297.4 241.8 L298.1 230.8 L298.7 231.4 L299.4 234.4 L300.1 237.4 L300.7 242.3 L301.4 238.0 L302.1 239.6 L302.8 235.8 L303.4 235.7 L304.1 238.4 L304.8 241.9 L305.5 236.2 L306.1 238.0 L306.8 242.1 L307.5 237.5 L308.1 242.6 L308.8 238.1 L309.5 239.6 L310.2 239.2 L310.8 241.5 L311.5 242.8 L312.2 244.9 L312.8 245.1 L313.5 244.0 L314.2 241.1 L314.9 243.9 L315.5 243.8 L316.2 243.4 L316.9 246.9 L317.5 246.1 L318.2 245.7 L318.9 244.3 L319.6 246.2 L320.2 245.1 L320.9 246.6 L321.6 246.1 L322.2 246.6 L322.9 247.4 L323.6 246.1 L324.3 247.2 L324.9 246.5 L325.6 248.0 L326.3 246.5 L327.0 247.7 L327.6 246.6 L328.3 248.0 L329.0 247.7 L329.6 247.4 L330.3 246.6 L331.0 247.8 L331.7 247.3 L332.3 246.0 L333.0 245.5 L333.7 245.2 L334.3 246.0 L335.0 243.6 L335.7 241.9 L336.4 244.2 L337.0 240.3 L337.7 241.4 L338.4 242.2 L339.0 241.8 L339.7 241.2 L340.4 241.3 L341.1 239.5 L341.7 239.5 L342.4 236.6 L343.1 237.7 L343.7 233.7 L344.4 236.5 L345.1 234.9 L345.8 236.1 L346.4 235.6 L347.1 230.7 L347.8 237.3 L348.5 231.9 L349.1 233.0 L349.8 235.1 L350.5 231.5 L351.1 230.2 L351.8 226.9 L352.5 224.1 L353.2 228.7 L353.8 227.6 L354.5 222.3 L355.2 231.0 L355.8 220.7 L356.5 219.5 L357.2 223.1 L357.9 218.2 L358.5 220.9 L359.2 217.1 L359.9 226.7 L360.5 218.3 L361.2 221.7 L361.9 229.3 L362.6 230.2 L363.2 233.5 L363.9 228.4 L364.6 230.7 L365.2 232.7 L365.9 230.9 L366.6 226.1 L367.3 227.3 L367.9 229.0 L368.6 235.6 L369.3 235.4 L370.0 233.6 L370.6 237.4 L371.3 235.6 L372.0 240.5 L372.6 241.1 L373.3 237.2 L374.0 239.7 L374.7 241.0 L375.3 245.3 L376.0 244.7 L376.7 246.2 L377.3 245.7 L378.0 244.1 L378.7 244.2 L379.4 244.6 L380.0 242.7 L380.7 242.0 L381.4 240.0 L382.0 240.8 L382.7 241.0 L383.4 236.0 L384.1 235.2 L384.7 233.9 L385.4 236.9 L386.1 237.0 L386.7 237.3 L387.4 233.2 L388.1 237.9 L388.8 237.4 L389.4 232.6 L390.1 233.9 L390.8 233.7 L391.5 233.5 L392.1 230.8 L392.8 228.3 L393.5 232.8 L394.1 226.0 L394.8 229.3 L395.5 225.7 L396.2 223.2 L396.8 227.5 L397.5 229.3 L398.2 220.3 L398.8 229.6 L399.5 224.9 L400.2 218.9 L400.9 219.8 L401.5 223.2 L402.2 229.3 L402.9 227.9 L403.5 232.5 L404.2 232.8 L404.9 232.0 L405.6 220.7 L406.2 219.6 L406.9 220.0 L407.6 227.6 L408.2 231.7 L408.9 227.2 L409.6 229.5 L410.3 224.8 L410.9 235.4 L411.6 233.3 L412.3 232.0 L413.0 228.0 L413.6 225.0 L414.3 234.9 L415.0 231.7 L415.6 228.6 L416.3 236.7 L417.0 238.1 L417.7 229.3 L418.3 236.9 L419.0 231.6 L419.7 233.2 L420.3 234.4 L421.0 233.7 L421.7 236.3 L422.4 234.7 L423.0 237.1 L423.7 236.1 L424.4 236.5 L425.0 241.3 L425.7 237.3 L426.4 242.1 L427.1 239.3 L427.7 241.8 L428.4 244.2 L429.1 244.7 L429.7 243.3 L430.4 248.0 L431.1 246.9 L431.8 249.5 L432.4 247.7 L433.1 246.8 L433.8 248.0 L434.5 247.7 L435.1 246.9 L435.8 246.5 L436.5 243.9 L437.1 244.4 L437.8 241.8 L438.5 243.0 L439.2 241.0 L439.8 242.1 L440.5 242.7 L441.2 241.0 L441.8 242.1 L442.5 241.8 L443.2 241.4 L443.9 241.9 L444.5 242.6 L445.2 241.6 L445.9 241.7 L446.5 240.5 L447.2 241.4 L447.9 241.6 L448.6 242.5 L449.2 241.4 L449.9 241.2 L450.6 239.5 L451.2 240.7 L451.9 239.6 L452.6 237.4 L453.3 236.6 L453.9 237.3 L454.6 234.4 L455.3 231.9 L456.0 236.2 L456.6 236.3 L457.3 232.9 L458.0 234.1 L458.6 232.7 L459.3 226.4 L460.0 226.6 L460.7 225.4 L461.3 231.9 L462.0 229.0 L462.7 225.7 L463.3 224.6 L464.0 223.7 L464.7 224.5 L465.4 226.7 L466.0 224.9 L466.7 222.9 L467.4 220.7 L468.0 219.9 L468.7 219.9 L469.4 218.3 L470.1 214.5 L470.7 215.6 L471.4 224.6 L472.1 222.6 L472.7 223.7 L473.4 222.6 L474.1 216.7 L474.8 219.3 L475.4 220.9 L476.1 219.3 L476.8 223.4 L477.5 220.1 L478.1 225.1 L478.8 226.4 L479.5 225.3 L480.1 224.9 L480.8 224.7 L481.5 224.8 L482.2 226.7 L482.8 229.8 L483.5 228.7 L484.2 230.3 L484.8 231.4 L485.5 233.8 L486.2 235.2 L486.9 234.2 L487.5 233.5 L488.2 231.6 L488.9 232.7 L489.5 231.7 L490.2 230.3 L490.9 228.3 L491.6 227.2 L492.2 225.2 L492.9 222.6 L493.6 227.1 L494.2 224.2 L494.9 225.7 L495.6 227.1 L496.3 227.1 L496.9 224.3 L497.6 226.5 L498.3 230.1 L499.0 227.4 L499.6 231.7 L500.3 228.2 L501.0 232.0 L501.6 231.4 L502.3 230.3 L503.0 227.7 L503.7 228.5 L504.3 227.9 L505.0 232.0 L505.7 231.6 L506.3 228.9 L507.0 228.8 L507.7 228.7 L508.4 224.7 L509.0 227.9 L509.7 225.7 L510.4 222.7 L511.0 224.6 L511.7 218.6 L512.4 222.2 L513.1 215.8 L513.7 218.9 L514.4 214.0 L515.1 217.5 L515.7 213.7 L516.4 215.5 L517.1 214.1 L517.8 212.2 L518.4 215.8 L519.1 219.7 L519.8 216.8 L520.5 220.2 L521.1 220.6 L521.8 222.7 L522.5 224.5 L523.1 225.1 L523.8 223.1 L524.5 224.0 L525.2 225.1 L525.8 224.9 L526.5 225.4 L527.2 224.7 L527.8 224.6 L528.5 225.0 L529.2 222.6 L529.9 223.7 L530.5 225.3 L531.2 224.0 L531.9 224.1 L532.5 222.9 L533.2 222.7 L533.9 222.3 L534.6 222.9 L535.2 222.3 L535.9 219.8 L536.6 218.1 L537.2 219.1 L537.9 216.2 L538.6 216.0 L539.3 215.8 L539.9 215.7 L540.6 215.0 L541.3 214.5 L542.0 215.3 L542.6 215.3 L543.3 215.2 L544.0 215.7 L544.6 215.9 L545.3 216.3 L546.0 216.6 L546.7 216.7 L547.3 216.7 L548.0 216.6 L548.7 215.6 L549.3 216.2 L550.0 215.4 L550.7 215.9 L551.4 215.4 L552.0 215.6 L552.7 215.0 L553.4 214.8 L554.0 215.1 L554.7 214.8 L555.4 214.2 L556.1 214.4 L556.7 214.4 L557.4 214.2 L558.1 213.7 L558.7 214.0 L559.4 213.1 L560.1 213.1 L560.8 213.3 L561.4 212.7 L562.1 212.9 L562.8 212.9 L563.5 212.7 L564.1 212.1 L564.8 212.4 L565.5 211.8 L566.1 212.0 L566.8 211.7 L567.5 211.9 L568.2 212.2 L568.8 211.9 L569.5 212.8 L570.2 212.6 L570.8 212.7 L571.5 213.0 L572.2 213.3 L572.9 213.2 L573.5 213.4 L574.2 213.9 L574.9 213.7 L575.5 213.9 L576.2 214.6 L576.9 214.7 L577.6 214.1 L578.2 214.4 L578.9 214.6 L579.6 215.3 L580.2 214.8 L580.2 219.2 L579.6 218.8 L578.9 218.6 L578.2 218.1 L577.6 218.3 L576.9 218.0 L576.2 217.4 L575.5 217.5 L574.9 217.1 L574.2 217.6 L573.5 217.4 L572.9 217.3 L572.2 217.0 L571.5 216.5 L570.8 216.6 L570.2 215.9 L569.5 215.6 L568.8 215.6 L568.2 215.2 L567.5 214.9 L566.8 215.1 L566.1 214.9 L565.5 215.0 L564.8 215.4 L564.1 215.7 L563.5 216.1 L562.8 215.8 L562.1 215.8 L561.4 215.8 L560.8 216.6 L560.1 216.4 L559.4 216.7 L558.7 217.0 L558.1 217.2 L557.4 217.6 L556.7 217.2 L556.1 218.0 L555.4 218.1 L554.7 217.9 L554.0 218.3 L553.4 218.1 L552.7 218.9 L552.0 218.9 L551.4 219.1 L550.7 218.9 L550.0 219.1 L549.3 219.6 L548.7 220.0 L548.0 219.6 L547.3 220.0 L546.7 220.3 L546.0 221.0 L545.3 221.6 L544.6 222.5 L544.0 222.2 L543.3 223.2 L542.6 223.4 L542.0 224.7 L541.3 223.7 L540.6 224.4 L539.9 224.9 L539.3 226.3 L538.6 226.4 L537.9 228.8 L537.2 229.0 L536.6 230.3 L535.9 231.0 L535.2 230.6 L534.6 233.8 L533.9 234.6 L533.2 233.8 L532.5 234.0 L531.9 235.1 L531.2 234.6 L530.5 234.2 L529.9 236.6 L529.2 235.3 L528.5 237.1 L527.8 237.9 L527.2 238.4 L526.5 235.9 L525.8 236.3 L525.2 237.0 L524.5 237.7 L523.8 236.7 L523.1 239.8 L522.5 239.6 L521.8 239.3 L521.1 241.1 L520.5 238.9 L519.8 239.9 L519.1 238.4 L518.4 242.2 L517.8 241.8 L517.1 240.7 L516.4 243.7 L515.7 243.0 L515.1 245.9 L514.4 243.5 L513.7 244.5 L513.1 246.0 L512.4 242.9 L511.7 245.4 L511.0 246.1 L510.4 246.2 L509.7 247.1 L509.0 248.2 L508.4 246.0 L507.7 250.5 L507.0 248.2 L506.3 250.6 L505.7 251.4 L505.0 250.3 L504.3 251.7 L503.7 252.5 L503.0 252.6 L502.3 251.2 L501.6 252.0 L501.0 254.0 L500.3 250.5 L499.6 252.4 L499.0 253.9 L498.3 252.0 L497.6 253.5 L496.9 250.1 L496.3 249.2 L495.6 247.4 L494.9 251.6 L494.2 250.4 L493.6 248.2 L492.9 250.4 L492.2 249.5 L491.6 246.9 L490.9 245.0 L490.2 247.4 L489.5 246.2 L488.9 246.2 L488.2 246.3 L487.5 245.1 L486.9 244.0 L486.2 244.8 L485.5 245.2 L484.8 249.0 L484.2 249.8 L483.5 250.8 L482.8 253.7 L482.2 258.5 L481.5 253.7 L480.8 260.9 L480.1 259.9 L479.5 262.3 L478.8 260.6 L478.1 264.3 L477.5 260.5 L476.8 268.5 L476.1 263.7 L475.4 263.9 L474.8 264.4 L474.1 264.7 L473.4 264.0 L472.7 263.4 L472.1 262.9 L471.4 258.0 L470.7 259.3 L470.1 259.1 L469.4 260.9 L468.7 263.6 L468.0 260.7 L467.4 258.1 L466.7 257.3 L466.0 260.9 L465.4 262.3 L464.7 265.7 L464.0 266.2 L463.3 268.3 L462.7 267.3 L462.0 262.8 L461.3 263.8 L460.7 270.9 L460.0 264.0 L459.3 271.1 L458.6 263.3 L458.0 265.1 L457.3 265.6 L456.6 261.0 L456.0 262.9 L455.3 262.6 L454.6 262.0 L453.9 258.1 L453.3 259.1 L452.6 257.9 L451.9 254.4 L451.2 252.9 L450.6 253.5 L449.9 250.8 L449.2 250.4 L448.6 250.9 L447.9 249.6 L447.2 250.8 L446.5 250.5 L445.9 251.1 L445.2 251.0 L444.5 250.7 L443.9 249.9 L443.2 250.0 L442.5 250.8 L441.8 249.8 L441.2 251.0 L440.5 251.7 L439.8 251.5 L439.2 250.8 L438.5 252.5 L437.8 254.7 L437.1 254.4 L436.5 255.4 L435.8 258.9 L435.1 259.4 L434.5 260.1 L433.8 263.0 L433.1 265.6 L432.4 264.6 L431.8 263.4 L431.1 263.4 L430.4 262.8 L429.7 264.2 L429.1 264.2 L428.4 260.7 L427.7 264.0 L427.1 260.4 L426.4 260.6 L425.7 262.4 L425.0 261.0 L424.4 265.5 L423.7 268.1 L423.0 271.2 L422.4 273.3 L421.7 267.8 L421.0 276.8 L420.3 275.2 L419.7 275.0 L419.0 277.6 L418.3 282.5 L417.7 275.4 L417.0 286.9 L416.3 282.5 L415.6 281.0 L415.0 281.0 L414.3 280.8 L413.6 287.4 L413.0 283.9 L412.3 293.3 L411.6 292.4 L410.9 288.8 L410.3 290.9 L409.6 298.0 L408.9 302.9 L408.2 290.9 L407.6 288.9 L406.9 291.8 L406.2 302.6 L405.6 303.5 L404.9 287.7 L404.2 287.1 L403.5 286.3 L402.9 298.6 L402.2 300.1 L401.5 294.2 L400.9 284.6 L400.2 295.6 L399.5 290.2 L398.8 289.5 L398.2 283.7 L397.5 289.9 L396.8 282.2 L396.2 277.0 L395.5 285.8 L394.8 274.2 L394.1 275.8 L393.5 279.0 L392.8 280.2 L392.1 271.4 L391.5 272.3 L390.8 272.3 L390.1 272.0 L389.4 268.4 L388.8 276.8 L388.1 267.2 L387.4 274.0 L386.7 273.2 L386.1 271.1 L385.4 265.8 L384.7 263.7 L384.1 266.0 L383.4 266.3 L382.7 263.5 L382.0 263.3 L381.4 261.4 L380.7 264.3 L380.0 260.1 L379.4 263.1 L378.7 259.4 L378.0 259.3 L377.3 260.3 L376.7 258.8 L376.0 259.4 L375.3 260.1 L374.7 263.3 L374.0 264.1 L373.3 265.0 L372.6 260.6 L372.0 263.8 L371.3 261.6 L370.6 267.7 L370.0 266.7 L369.3 266.9 L368.6 274.1 L367.9 276.8 L367.3 271.1 L366.6 279.2 L365.9 273.3 L365.2 272.8 L364.6 283.0 L363.9 281.6 L363.2 276.5 L362.6 276.7 L361.9 277.2 L361.2 269.5 L360.5 280.6 L359.9 272.3 L359.2 277.1 L358.5 269.1 L357.9 268.1 L357.2 275.9 L356.5 271.7 L355.8 267.9 L355.2 268.6 L354.5 269.9 L353.8 270.5 L353.2 267.5 L352.5 275.7 L351.8 271.1 L351.1 272.2 L350.5 271.8 L349.8 272.5 L349.1 269.9 L348.5 266.9 L347.8 270.1 L347.1 269.8 L346.4 266.1 L345.8 270.1 L345.1 270.1 L344.4 268.9 L343.7 264.4 L343.1 262.2 L342.4 260.7 L341.7 260.6 L341.1 264.3 L340.4 259.6 L339.7 262.6 L339.0 260.0 L338.4 256.7 L337.7 257.4 L337.0 258.7 L336.4 257.8 L335.7 255.7 L335.0 255.1 L334.3 255.4 L333.7 255.7 L333.0 254.0 L332.3 254.5 L331.7 253.4 L331.0 253.2 L330.3 253.6 L329.6 253.6 L329.0 253.4 L328.3 253.8 L327.6 254.1 L327.0 254.4 L326.3 254.1 L325.6 253.2 L324.9 253.5 L324.3 255.6 L323.6 255.3 L322.9 255.8 L322.2 257.8 L321.6 257.3 L320.9 260.1 L320.2 258.3 L319.6 262.3 L318.9 260.9 L318.2 263.8 L317.5 263.0 L316.9 262.1 L316.2 262.9 L315.5 267.6 L314.9 265.8 L314.2 270.1 L313.5 270.5 L312.8 271.8 L312.2 266.3 L311.5 271.3 L310.8 272.2 L310.2 270.6 L309.5 273.2 L308.8 268.8 L308.1 274.5 L307.5 276.6 L306.8 277.5 L306.1 270.7 L305.5 271.7 L304.8 277.9 L304.1 276.8 L303.4 275.5 L302.8 277.9 L302.1 279.5 L301.4 279.5 L300.7 282.4 L300.1 285.1 L299.4 291.4 L298.7 289.4 L298.1 283.9 L297.4 290.9 L296.7 287.5 L296.0 286.0 L295.4 283.8 L294.7 286.3 L294.0 293.6 L293.4 282.3 L292.7 293.4 L292.0 284.0 L291.3 288.3 L290.7 286.7 L290.0 284.4 L289.3 281.4 L288.7 281.3 L288.0 286.3 L287.3 286.6 L286.6 288.7 L286.0 279.5 L285.3 283.3 L284.6 282.6 L284.0 278.3 L283.3 283.5 L282.6 282.8 L281.9 284.9 L281.3 283.6 L280.6 284.8 L279.9 283.9 L279.2 286.3 L278.6 287.4 L277.9 280.8 L277.2 281.1 L276.6 283.2 L275.9 284.4 L275.2 281.1 L274.5 286.4 L273.9 278.5 L273.2 283.8 L272.5 278.7 L271.9 284.1 L271.2 279.4 L270.5 285.5 L269.8 276.7 L269.2 276.5 L268.5 283.2 L267.8 282.8 L267.2 280.4 L266.5 280.0 L265.8 280.1 L265.1 278.9 L264.5 277.0 L263.8 277.6 L263.1 277.3 L262.5 274.9 L261.8 280.5 L261.1 276.2 L260.4 273.7 L259.8 276.9 L259.1 270.1 L258.4 269.8 L257.7 269.9 L257.1 269.5 L256.4 269.8 L255.7 273.0 L255.1 271.2 L254.4 270.4 L253.7 271.9 L253.0 273.1 L252.4 265.8 L251.7 271.4 L251.0 272.8 L250.4 271.3 L249.7 274.1 L249.0 274.2 L248.3 272.1 L247.7 268.6 L247.0 272.2 L246.3 275.9 L245.7 275.0 L245.0 270.1 L244.3 273.7 L243.6 276.6 L243.0 275.4 L242.3 273.0 L241.6 272.7 L241.0 271.9 L240.3 267.0 L239.6 266.1 L238.9 268.1 L238.3 268.4 L237.6 265.0 L236.9 265.1 L236.2 264.6 L235.6 266.6 L234.9 263.6 L234.2 265.0 L233.6 263.6 L232.9 265.7 L232.2 263.4 L231.5 261.5 L230.9 264.6 L230.2 262.2 L229.5 261.2 L228.9 263.3 L228.2 262.3 L227.5 262.4 L226.8 262.6 L226.2 259.6 L225.5 260.3 L224.8 259.1 L224.2 258.5 L223.5 258.5 L222.8 257.3 L222.1 257.0 L221.5 255.3 L220.8 254.5 L220.1 254.4 L219.5 254.9 L218.8 254.5 L218.1 254.4 L217.4 254.7 L216.8 254.8 L216.1 254.3 L215.4 255.0 L214.7 254.8 L214.1 254.3 L213.4 254.6 L212.7 254.8 L212.1 255.3 L211.4 256.8 L210.7 256.8 L210.0 257.0 L209.4 258.3 L208.7 257.5 L208.0 257.3 L207.4 259.7 L206.7 259.5 L206.0 259.3 L205.3 259.3 L204.7 259.8 L204.0 261.9 L203.3 261.2 L202.7 264.4 L202.0 265.4 L201.3 267.5 L200.6 270.5 L200.0 273.9 L199.3 273.9 L198.6 277.7 L198.0 279.0 L197.3 280.6 L196.6 277.3 L195.9 277.7 L195.3 276.9 L194.6 276.2 L193.9 275.7 L193.2 274.4 L192.6 276.0 L191.9 272.2 L191.2 272.4 L190.6 271.2 L189.9 273.4 L189.2 274.1 L188.5 270.7 L187.9 274.4 L187.2 271.8 L186.5 271.3 L185.9 273.0 L185.2 275.3 L184.5 274.2 L183.8 272.4 L183.2 275.5 L182.5 271.9 L181.8 276.0 L181.2 276.3 L180.5 278.5 L179.8 276.9 L179.1 272.6 L178.5 278.4 L177.8 277.3 L177.1 278.5 L176.5 277.7 L175.8 273.6 L175.1 275.0 L174.4 273.4 L173.8 278.8 L173.1 277.5 L172.4 272.7 L171.7 272.9 L171.1 271.1 L170.4 275.0 L169.7 273.3 L169.1 274.6 L168.4 273.7 L167.7 271.7 L167.0 271.3 L166.4 272.2 L165.7 269.5 L165.0 272.2 L164.4 275.0 L163.7 275.3 L163.0 271.6 L162.3 272.8 L161.7 270.7 L161.0 274.3 L160.3 271.8 L159.7 269.4 L159.0 266.8 L158.3 266.3 L157.6 268.7 L157.0 267.6 L156.3 265.9 L155.6 264.9 L155.0 263.4 L154.3 263.2 L153.6 260.6 L152.9 260.5 L152.3 261.9 L151.6 260.9 L150.9 260.0 L150.2 260.2 L149.6 258.9 L148.9 257.9 L148.2 258.4 L147.6 256.7 L146.9 256.5 L146.2 256.9 L145.5 256.8 L144.9 257.4 L144.2 257.3 L143.5 257.4 L142.9 257.7 L142.2 257.5 L141.5 257.8 L140.8 257.3 L140.2 258.2 L139.5 257.8 L138.8 257.7 L138.2 257.3 L137.5 257.0 L136.8 257.7 L136.1 259.0 L135.5 258.3 L134.8 260.2 L134.1 257.6 L133.5 258.7 L132.8 260.5 L132.1 259.0 L131.4 262.1 L130.8 261.6 L130.1 260.3 L129.4 261.7 L128.7 265.3 L128.1 262.2 L127.4 264.8 L126.7 267.8 L126.1 265.7 L125.4 268.6 L124.7 267.0 L124.0 271.8 L123.4 273.0 L122.7 273.4 L122.0 271.2 L121.4 271.8 L120.7 272.3 L120.0 274.7 L119.3 277.6 L118.7 279.1 L118.0 280.4 L117.3 277.5 L116.7 278.7 L116.0 278.2 L115.3 282.9 L114.6 281.9 L114.0 279.0 L113.3 280.4 L112.6 280.4 L112.0 283.4 L111.3 280.3 L110.6 287.2 L109.9 284.7 L109.3 281.5 L108.6 282.0 L107.9 287.9 L107.2 287.5 L106.6 284.8 L105.9 282.4 L105.2 283.0 L104.6 284.6 L103.9 285.2 L103.2 283.8 L102.5 284.1 L101.9 282.1 L101.2 277.9 L100.5 274.9 L99.9 274.0 L99.2 274.4 L98.5 270.9 L97.8 267.0 L97.2 264.9 L96.5 262.8Z" fill="#ff1818" fill-opacity="0.55"/>
<polyline points="96.5,244.7 98.7,270.9 101.1,245.3 103.2,304.3 105.2,234.5 107.5,301.9 109.2,241.8 111.6,301.4 113.6,236.0 116.1,295.9 118.4,240.6 120.5,287.6 122.6,237.4 125.0,283.9 126.8,236.7 129.2,273.0 131.4,230.1 133.8,265.6 136.2,241.8 138.3,263.6 140.3,247.2 142.6,259.2 144.7,252.0 146.5,260.7 148.8,247.6 150.7,262.6 152.9,238.9 154.6,270.9 156.6,240.1 159.1,275.0 161.6,230.1 164.0,288.3 165.9,228.7 167.6,289.0 169.7,240.1 171.6,292.2 173.4,221.4 175.9,297.0 177.9,230.1 180.1,294.1 181.9,227.2 184.3,281.1 186.5,246.8 188.6,281.7 190.3,246.1 192.0,281.8 194.4,250.6 196.4,290.5 198.2,252.7 199.9,281.2 202.3,241.8 204.5,267.9 206.3,243.1 208.3,261.0 210.1,245.7 212.4,257.8 214.5,246.1 216.3,255.5 218.5,249.1 220.6,256.3 222.5,250.5 225.0,265.9 227.1,234.5 229.0,273.8 231.2,238.8 233.7,273.8 236.2,238.1 237.9,276.2 240.0,241.7 242.2,286.3 244.2,222.9 245.9,292.7 248.2,227.1 250.3,288.4 252.3,221.2 254.1,289.0 256.4,215.6 258.6,285.8 261.0,225.9 262.9,301.4 265.1,218.5 267.6,301.6 269.5,217.7 271.7,304.5 274.1,214.9 275.9,308.7 277.8,218.7 280.0,301.9 282.0,219.3 283.8,308.7 285.9,212.7 288.4,309.7 290.6,209.8 292.6,320.3 295.1,205.4 297.6,320.3 299.7,205.4 301.9,306.8 304.1,218.5 306.1,297.0 307.9,227.8 310.1,287.8 312.1,227.9 314.4,281.0 316.8,230.1 318.6,268.9 320.9,238.1 323.3,257.8 325.3,243.2 327.3,257.4 329.5,246.3 331.2,257.8 333.0,243.2 334.7,261.8 337.0,230.1 339.4,269.4 341.7,231.0 343.4,269.8 345.2,220.1 347.4,292.7 349.5,211.2 351.8,286.8 353.7,207.3 355.8,295.4 357.8,190.9 360.2,304.3 362.4,206.1 364.6,308.7 366.7,199.6 369.2,286.9 371.5,221.4 373.3,279.6 375.4,238.9 377.2,266.5 379.4,235.0 381.2,273.6 383.3,229.8 385.1,288.3 387.3,215.6 389.6,295.0 391.6,205.1 393.7,311.6 396.1,195.2 398.4,314.2 400.4,182.2 402.6,333.4 405.1,180.7 407.4,342.1 409.1,188.0 411.2,333.4 413.4,201.0 415.9,317.4 417.7,199.6 420.2,292.8 422.6,219.4 424.8,275.2 426.7,225.8 428.6,273.6 430.9,238.9 432.8,275.2 434.7,238.0 437.0,256.3 439.4,236.0 441.7,255.6 443.8,239.2 446.0,253.0 447.9,236.0 450.0,256.3 452.4,228.9 454.4,271.9 456.6,217.2 458.4,291.2 460.4,206.9 462.2,285.1 464.6,200.8 466.7,283.2 469.0,193.8 471.2,283.9 473.3,196.5 475.5,277.4 477.7,196.7 479.7,292.7 482.0,214.5 484.5,250.5 486.3,228.7 488.8,251.5 490.9,217.8 493.1,263.6 495.5,208.3 497.3,262.8 499.6,214.2 501.3,267.9 503.2,219.6 505.3,260.7 507.3,218.5 509.2,259.6 511.1,211.1 513.2,260.5 515.0,195.2 517.3,260.7 519.3,210.8 521.3,247.6 523.7,215.6 525.7,243.7 527.5,218.8 529.7,241.4 531.6,217.1 533.6,241.1 535.6,218.2 537.5,232.2 539.8,208.3 542.2,231.6 544.3,214.2 546.8,222.9 549.1,213.7 551.1,221.4 552.8,213.3 554.6,218.7 556.7,212.2 558.9,218.5 561.2,211.2 563.5,217.4 565.4,209.8 567.7,217.1 569.6,211.6 571.8,217.3 574.2,211.6 576.0,219.9 577.7,212.7 579.9,221.4" fill="none" stroke="#ff1010" stroke-width="1.8" stroke-linejoin="round" stroke-opacity="0.92"/>
<polyline points="579.9,221.4 580.5,213.6 581.3,211.2 582.1,206.4 583.0,197.8 583.8,194.8 584.6,186.6 585.4,176.4 586.2,169.1 587.0,158.8 587.8,150.3 588.6,136.9 589.4,128.3 590.2,116.5 591.0,107.4 591.8,100.9 592.6,92.6 593.4,86.6 594.2,82.7 595.0,73.6 595.9,70.5 596.7,76.4 597.5,81.7 598.3,84.3 599.1,90.9 599.9,95.5 600.7,102.3 601.5,108.6 602.3,116.9 603.1,123.5 603.9,131.0 604.7,140.6 605.5,146.5 606.3,157.2 607.1,163.9 607.9,169.2 608.8,176.2 609.6,183.9 610.4,187.4 611.2,190.9 612.0,195.1 612.8,198.0 613.6,198.7 614.4,201.9 615.2,199.7 616.0,202.2 616.8,203.1 617.6,204.4 618.4,204.5 619.2,204.6 620.0,207.7 620.8,208.4 621.7,208.6 622.5,210.6 623.3,210.5 624.1,211.6 624.9,213.0 625.7,213.1 626.5,214.6 627.3,217.1 628.1,214.4 628.9,217.2 629.7,217.4 630.5,218.0 631.3,216.7 632.1,217.2 632.9,219.2 633.7,220.2" fill="none" stroke="#ff1010" stroke-width="2.1" stroke-linejoin="round" />
<path d="M768.8 259.1 L769.5 260.1 L770.1 257.4 L770.8 259.2 L771.5 258.4 L772.2 258.6 L772.8 257.8 L773.5 255.8 L774.2 259.2 L774.9 260.9 L775.5 255.6 L776.2 255.2 L776.9 256.9 L777.6 260.1 L778.2 263.5 L778.9 256.4 L779.6 260.7 L780.3 260.0 L780.9 262.2 L781.6 258.4 L782.3 259.7 L782.9 258.3 L783.6 260.7 L784.3 265.4 L785.0 259.5 L785.6 262.4 L786.3 263.3 L787.0 263.1 L787.7 264.1 L788.3 265.1 L789.0 263.7 L789.7 258.6 L790.4 257.8 L791.0 260.7 L791.7 255.9 L792.4 254.5 L793.1 257.2 L793.7 255.3 L794.4 254.2 L795.1 251.0 L795.7 249.4 L796.4 254.3 L797.1 253.8 L797.8 253.2 L798.4 254.6 L799.1 252.6 L799.8 252.6 L800.5 252.8 L801.1 250.4 L801.8 251.3 L802.5 252.6 L803.2 251.1 L803.8 252.0 L804.5 249.5 L805.2 248.5 L805.9 250.5 L806.5 247.4 L807.2 248.4 L807.9 248.8 L808.6 244.6 L809.2 244.6 L809.9 245.8 L810.6 248.0 L811.2 250.8 L811.9 253.8 L812.6 254.7 L813.3 254.5 L813.9 255.0 L814.6 255.0 L815.3 254.4 L816.0 255.0 L816.6 255.0 L817.3 254.5 L818.0 253.5 L818.7 252.8 L819.3 252.6 L820.0 251.8 L820.7 251.4 L821.4 250.0 L822.0 249.2 L822.7 249.7 L823.4 248.2 L824.0 248.4 L824.7 247.9 L825.4 247.1 L826.1 249.3 L826.7 248.1 L827.4 245.4 L828.1 247.4 L828.8 244.7 L829.4 247.3 L830.1 243.8 L830.8 246.4 L831.5 245.9 L832.1 247.5 L832.8 243.3 L833.5 245.6 L834.2 246.8 L834.8 246.1 L835.5 241.9 L836.2 242.1 L836.8 244.3 L837.5 241.3 L838.2 246.5 L838.9 246.0 L839.5 247.7 L840.2 242.8 L840.9 239.6 L841.6 240.1 L842.2 238.5 L842.9 241.4 L843.6 241.6 L844.3 237.4 L844.9 233.4 L845.6 237.1 L846.3 237.7 L847.0 241.3 L847.6 240.0 L848.3 237.4 L849.0 237.8 L849.6 237.2 L850.3 243.4 L851.0 237.2 L851.7 243.4 L852.3 237.6 L853.0 243.9 L853.7 238.4 L854.4 238.0 L855.0 242.1 L855.7 242.0 L856.4 243.4 L857.1 245.3 L857.7 239.1 L858.4 248.5 L859.1 244.4 L859.8 244.9 L860.4 248.9 L861.1 247.3 L861.8 249.1 L862.5 250.4 L863.1 254.6 L863.8 258.0 L864.5 257.9 L865.1 255.7 L865.8 257.9 L866.5 263.2 L867.2 264.9 L867.8 263.4 L868.5 266.3 L869.2 265.1 L869.9 266.7 L870.5 266.6 L871.2 267.7 L871.9 264.9 L872.6 262.4 L873.2 262.2 L873.9 257.5 L874.6 257.5 L875.3 256.4 L875.9 254.9 L876.6 254.7 L877.3 253.4 L877.9 249.1 L878.6 249.2 L879.3 250.0 L880.0 246.7 L880.6 243.4 L881.3 243.5 L882.0 244.0 L882.7 242.8 L883.3 240.8 L884.0 241.6 L884.7 241.4 L885.4 240.6 L886.0 241.6 L886.7 241.9 L887.4 243.4 L888.1 244.7 L888.7 245.2 L889.4 246.0 L890.1 247.1 L890.7 248.4 L891.4 245.9 L892.1 248.0 L892.8 248.5 L893.4 248.4 L894.1 248.5 L894.8 247.7 L895.5 247.7 L896.1 247.6 L896.8 248.2 L897.5 246.8 L898.2 245.1 L898.8 240.9 L899.5 242.6 L900.2 238.5 L900.9 239.4 L901.5 238.0 L902.2 236.5 L902.9 240.4 L903.5 238.5 L904.2 242.4 L904.9 242.8 L905.6 239.9 L906.2 242.6 L906.9 239.9 L907.6 239.1 L908.3 239.7 L908.9 242.3 L909.6 236.8 L910.3 240.9 L911.0 235.9 L911.6 240.5 L912.3 238.2 L913.0 235.1 L913.7 237.7 L914.3 238.0 L915.0 231.7 L915.7 235.6 L916.4 236.1 L917.0 232.7 L917.7 229.5 L918.4 235.2 L919.0 237.2 L919.7 232.8 L920.4 226.5 L921.1 236.8 L921.7 229.7 L922.4 234.3 L923.1 228.6 L923.8 235.6 L924.4 234.0 L925.1 225.6 L925.8 232.7 L926.5 235.0 L927.1 229.5 L927.8 228.1 L928.5 239.0 L929.2 232.2 L929.8 240.3 L930.5 236.0 L931.2 231.4 L931.8 240.1 L932.5 235.4 L933.2 241.6 L933.9 235.1 L934.5 241.9 L935.2 234.8 L935.9 237.8 L936.6 234.8 L937.2 239.8 L937.9 239.4 L938.6 232.7 L939.3 238.6 L939.9 229.1 L940.6 233.9 L941.3 232.3 L942.0 236.6 L942.6 230.1 L943.3 232.8 L944.0 224.4 L944.6 233.6 L945.3 226.2 L946.0 228.7 L946.7 235.2 L947.3 236.5 L948.0 233.4 L948.7 237.1 L949.4 234.9 L950.0 234.1 L950.7 238.5 L951.4 227.9 L952.1 228.4 L952.7 230.1 L953.4 233.2 L954.1 229.2 L954.8 233.7 L955.4 229.5 L956.1 239.6 L956.8 234.9 L957.4 238.4 L958.1 225.7 L958.8 226.7 L959.5 233.1 L960.1 227.6 L960.8 232.6 L961.5 231.4 L962.2 233.6 L962.8 234.1 L963.5 222.1 L964.2 229.0 L964.9 220.1 L965.5 219.6 L966.2 227.8 L966.9 222.1 L967.6 226.5 L968.2 228.7 L968.9 221.9 L969.6 217.6 L970.3 230.8 L970.9 216.8 L971.6 217.7 L972.3 221.6 L972.9 225.6 L973.6 232.2 L974.3 226.6 L975.0 228.8 L975.6 223.7 L976.3 223.5 L977.0 227.4 L977.7 232.5 L978.3 224.3 L979.0 227.1 L979.7 232.9 L980.4 226.4 L981.0 233.7 L981.7 227.5 L982.4 229.6 L983.1 229.1 L983.7 232.4 L984.4 234.3 L985.1 237.0 L985.7 237.0 L986.4 235.2 L987.1 230.6 L987.8 234.5 L988.4 234.1 L989.1 233.2 L989.8 239.1 L990.5 237.6 L991.1 236.6 L991.8 233.6 L992.5 236.9 L993.2 234.6 L993.8 237.1 L994.5 235.9 L995.2 236.7 L995.9 238.0 L996.5 235.0 L997.2 237.0 L997.9 235.2 L998.5 238.4 L999.2 235.4 L999.9 237.6 L1000.6 235.8 L1001.2 238.2 L1001.9 237.6 L1002.6 237.2 L1003.3 236.1 L1003.9 237.7 L1004.6 237.1 L1005.3 234.5 L1006.0 233.1 L1006.6 232.2 L1007.3 234.0 L1008.0 228.4 L1008.7 224.3 L1009.3 230.4 L1010.0 221.6 L1010.7 225.7 L1011.3 228.5 L1012.0 228.2 L1012.7 227.6 L1013.4 228.3 L1014.0 225.2 L1014.7 225.6 L1015.4 221.0 L1016.1 223.5 L1016.7 217.3 L1017.4 222.4 L1018.1 220.3 L1018.8 222.7 L1019.4 222.3 L1020.1 215.4 L1020.8 225.4 L1021.5 218.1 L1022.1 220.5 L1022.8 224.2 L1023.5 219.8 L1024.2 218.8 L1024.8 215.2 L1025.5 212.2 L1026.2 219.1 L1026.8 218.2 L1027.5 212.1 L1028.2 224.0 L1028.9 211.6 L1029.5 210.8 L1030.2 216.1 L1030.9 210.8 L1031.6 214.8 L1032.2 208.7 L1032.9 219.6 L1033.6 207.7 L1034.3 210.8 L1034.9 219.5 L1035.6 219.6 L1036.3 222.7 L1037.0 214.5 L1037.6 216.8 L1038.3 218.6 L1039.0 215.4 L1039.6 207.8 L1040.3 208.5 L1041.0 209.7 L1041.7 218.3 L1042.3 218.5 L1043.0 216.3 L1043.7 222.1 L1044.4 220.0 L1045.0 227.2 L1045.7 227.8 L1046.4 223.2 L1047.1 226.5 L1047.7 228.4 L1048.4 232.6 L1049.1 231.8 L1049.8 232.6 L1050.4 231.4 L1051.1 231.2 L1051.8 232.8 L1052.4 234.4 L1053.1 234.0 L1053.8 234.7 L1054.5 234.4 L1055.1 236.0 L1055.8 237.1 L1056.5 235.3 L1057.2 235.9 L1057.8 236.2 L1058.5 238.6 L1059.2 238.4 L1059.9 238.3 L1060.5 236.3 L1061.2 238.1 L1061.9 237.6 L1062.6 235.3 L1063.2 235.6 L1063.9 235.3 L1064.6 234.9 L1065.2 233.6 L1065.9 232.6 L1066.6 234.0 L1067.3 231.4 L1067.9 232.4 L1068.6 231.0 L1069.3 230.0 L1070.0 231.1 L1070.6 231.4 L1071.3 228.4 L1072.0 230.9 L1072.7 229.0 L1073.3 226.6 L1074.0 226.3 L1074.7 226.8 L1075.4 228.1 L1076.0 227.0 L1076.7 227.9 L1077.4 227.3 L1078.1 226.4 L1078.7 221.6 L1079.4 221.4 L1080.1 221.7 L1080.7 224.3 L1081.4 225.7 L1082.1 224.2 L1082.8 225.0 L1083.4 223.4 L1084.1 227.1 L1084.8 226.3 L1085.5 225.8 L1086.1 224.4 L1086.8 223.2 L1087.5 226.9 L1088.2 225.6 L1088.8 224.4 L1089.5 227.7 L1090.2 228.5 L1090.9 225.3 L1091.5 228.5 L1092.2 226.7 L1092.9 227.5 L1093.5 228.2 L1094.2 228.2 L1094.9 229.4 L1095.6 229.0 L1096.2 230.2 L1096.9 230.0 L1097.6 230.4 L1098.3 232.5 L1098.9 231.1 L1099.6 232.8 L1100.3 231.3 L1101.0 232.1 L1101.6 232.9 L1102.3 232.8 L1103.0 231.8 L1103.7 233.7 L1104.3 232.8 L1105.0 233.7 L1105.7 232.4 L1106.3 232.8 L1107.0 234.2 L1107.7 234.7 L1108.4 235.1 L1109.0 235.5 L1109.7 235.1 L1110.4 235.4 L1111.1 235.0 L1111.7 235.4 L1112.4 235.1 L1113.1 235.4 L1113.8 235.6 L1114.4 235.1 L1115.1 235.4 L1115.8 235.3 L1116.5 235.2 L1117.1 235.3 L1117.8 235.6 L1118.5 235.3 L1119.1 235.3 L1119.8 234.0 L1120.5 233.6 L1121.2 232.9 L1121.8 233.0 L1122.5 231.1 L1123.2 231.9 L1123.9 231.0 L1124.5 233.1 L1125.2 232.9 L1125.9 231.7 L1126.6 231.8 L1127.2 233.2 L1127.9 231.5 L1128.6 230.1 L1129.3 234.6 L1129.9 235.0 L1130.6 232.8 L1131.3 233.9 L1132.0 233.3 L1132.6 229.9 L1133.3 230.4 L1134.0 230.1 L1134.6 233.8 L1135.3 232.5 L1136.0 231.1 L1136.7 230.9 L1137.3 230.7 L1138.0 231.2 L1138.7 232.4 L1139.4 231.8 L1140.0 230.4 L1140.7 228.9 L1141.4 228.0 L1142.1 227.5 L1142.7 226.2 L1143.4 223.6 L1144.1 223.0 L1144.8 225.9 L1145.4 224.0 L1146.1 223.5 L1146.8 222.0 L1147.4 218.3 L1148.1 218.4 L1148.8 218.1 L1149.5 216.4 L1150.1 217.0 L1150.8 214.2 L1151.5 215.2 L1152.2 214.4 L1152.8 212.3 L1153.5 210.5 L1154.2 208.6 L1154.9 206.8 L1155.5 206.2 L1156.2 206.7 L1156.9 205.3 L1157.6 206.3 L1158.2 206.7 L1158.9 208.7 L1159.6 209.8 L1160.2 210.1 L1160.9 210.7 L1161.6 210.3 L1162.3 211.9 L1162.9 212.1 L1163.6 210.4 L1164.3 208.2 L1165.0 206.5 L1165.6 204.1 L1166.3 201.3 L1167.0 203.5 L1167.7 200.5 L1168.3 199.6 L1169.0 198.7 L1169.7 196.5 L1170.4 193.0 L1171.0 194.4 L1171.7 197.2 L1172.4 193.7 L1173.0 197.3 L1173.7 194.4 L1174.4 199.2 L1175.1 199.3 L1175.7 198.9 L1176.4 196.8 L1177.1 198.4 L1177.8 198.5 L1178.4 203.9 L1179.1 204.2 L1179.8 201.8 L1180.5 202.8 L1181.1 204.0 L1181.8 200.5 L1182.5 205.5 L1183.2 204.1 L1183.8 201.9 L1184.5 205.3 L1185.2 199.5 L1185.9 205.0 L1186.5 198.6 L1187.2 203.6 L1187.9 198.9 L1188.5 204.4 L1189.2 201.1 L1189.9 204.6 L1190.6 202.5 L1191.2 199.5 L1191.9 203.8 L1192.6 209.1 L1193.3 203.8 L1193.9 208.7 L1194.6 208.5 L1195.3 211.4 L1196.0 214.6 L1196.6 215.3 L1197.3 212.9 L1198.0 216.7 L1198.7 220.5 L1199.3 221.8 L1200.0 224.3 L1200.7 225.0 L1201.3 226.6 L1202.0 228.7 L1202.7 228.3 L1203.4 231.0 L1204.0 231.1 L1204.7 229.1 L1205.4 228.2 L1206.1 226.1 L1206.7 224.9 L1207.4 224.2 L1208.1 224.6 L1208.8 223.9 L1209.4 221.0 L1210.1 219.0 L1210.8 220.2 L1211.5 216.5 L1212.1 216.3 L1212.8 216.1 L1213.5 216.2 L1214.1 212.7 L1214.8 209.3 L1215.5 208.1 L1216.2 205.4 L1216.8 202.7 L1217.5 201.1 L1218.2 198.7 L1218.9 197.0 L1219.5 195.3 L1220.2 192.9 L1220.9 191.0 L1221.6 189.1 L1222.2 183.9 L1222.9 184.2 L1223.6 179.7 L1224.3 180.3 L1224.9 177.6 L1225.6 177.3 L1226.3 173.7 L1226.9 171.9 L1227.6 172.1 L1228.3 169.8 L1229.0 166.5 L1229.6 166.0 L1230.3 165.1 L1231.0 163.2 L1231.7 160.1 L1232.3 160.3 L1233.0 155.5 L1233.7 154.3 L1234.4 156.1 L1235.0 154.8 L1235.7 156.6 L1236.4 157.4 L1237.1 157.4 L1237.7 155.7 L1238.4 157.9 L1239.1 156.4 L1239.8 158.3 L1240.4 157.9 L1241.1 157.3 L1241.8 157.1 L1242.4 154.6 L1243.1 156.2 L1243.8 154.2 L1244.5 153.1 L1245.1 152.7 L1245.8 152.2 L1246.5 150.7 L1247.2 150.1 L1247.8 150.8 L1248.5 150.2 L1249.2 150.2 L1249.9 151.5 L1250.5 151.6 L1251.2 150.0 L1251.9 150.5 L1252.6 150.6 L1253.2 151.7 L1253.9 150.4 L1254.6 152.7 L1255.2 155.8 L1255.9 158.1 L1256.6 159.8 L1257.3 162.1 L1257.3 166.1 L1256.6 163.9 L1255.9 162.6 L1255.2 162.5 L1254.6 159.4 L1253.9 159.3 L1253.2 158.8 L1252.6 158.8 L1251.9 158.1 L1251.2 159.0 L1250.5 158.6 L1249.9 157.8 L1249.2 158.3 L1248.5 157.8 L1247.8 159.4 L1247.2 159.5 L1246.5 160.9 L1245.8 161.8 L1245.1 162.4 L1244.5 164.5 L1243.8 164.2 L1243.1 165.0 L1242.4 167.0 L1241.8 167.4 L1241.1 168.3 L1240.4 170.7 L1239.8 169.3 L1239.1 169.2 L1238.4 170.0 L1237.7 170.7 L1237.1 171.5 L1236.4 169.5 L1235.7 168.5 L1235.0 168.1 L1234.4 170.8 L1233.7 169.0 L1233.0 171.2 L1232.3 173.1 L1231.7 175.1 L1231.0 177.6 L1230.3 176.6 L1229.6 180.7 L1229.0 182.0 L1228.3 182.3 L1227.6 184.6 L1226.9 184.7 L1226.3 188.6 L1225.6 189.9 L1224.9 191.2 L1224.3 191.6 L1223.6 193.4 L1222.9 196.8 L1222.2 199.9 L1221.6 200.0 L1220.9 202.7 L1220.2 205.5 L1219.5 208.6 L1218.9 211.4 L1218.2 214.6 L1217.5 214.9 L1216.8 218.4 L1216.2 220.1 L1215.5 223.9 L1214.8 223.8 L1214.1 226.5 L1213.5 228.9 L1212.8 230.2 L1212.1 229.7 L1211.5 232.2 L1210.8 232.0 L1210.1 233.0 L1209.4 233.5 L1208.8 232.6 L1208.1 235.7 L1207.4 236.1 L1206.7 235.2 L1206.1 235.8 L1205.4 237.2 L1204.7 237.2 L1204.0 237.4 L1203.4 239.5 L1202.7 238.9 L1202.0 240.9 L1201.3 242.1 L1200.7 243.2 L1200.0 239.8 L1199.3 240.3 L1198.7 241.6 L1198.0 242.7 L1197.3 240.7 L1196.6 247.1 L1196.0 246.3 L1195.3 245.6 L1194.6 247.2 L1193.9 241.5 L1193.3 241.6 L1192.6 237.8 L1191.9 241.8 L1191.2 239.8 L1190.6 236.8 L1189.9 239.1 L1189.2 236.9 L1188.5 238.9 L1187.9 234.7 L1187.2 234.4 L1186.5 235.0 L1185.9 229.9 L1185.2 231.5 L1184.5 230.9 L1183.8 229.6 L1183.2 229.4 L1182.5 229.3 L1181.8 225.3 L1181.1 229.1 L1180.5 225.1 L1179.8 226.5 L1179.1 226.5 L1178.4 224.2 L1177.8 224.8 L1177.1 224.8 L1176.4 223.9 L1175.7 221.4 L1175.1 221.3 L1174.4 222.5 L1173.7 217.9 L1173.0 218.9 L1172.4 221.1 L1171.7 219.8 L1171.0 222.0 L1170.4 219.1 L1169.7 218.9 L1169.0 217.6 L1168.3 221.7 L1167.7 220.9 L1167.0 219.3 L1166.3 220.8 L1165.6 220.1 L1165.0 218.4 L1164.3 217.4 L1163.6 218.6 L1162.9 218.1 L1162.3 219.1 L1161.6 220.4 L1160.9 220.7 L1160.2 220.7 L1159.6 223.0 L1158.9 222.2 L1158.2 225.3 L1157.6 225.1 L1156.9 225.3 L1156.2 227.2 L1155.5 230.4 L1154.9 226.6 L1154.2 231.1 L1153.5 230.3 L1152.8 231.6 L1152.2 230.9 L1151.5 232.9 L1150.8 232.3 L1150.1 237.1 L1149.5 236.2 L1148.8 237.2 L1148.1 238.4 L1147.4 239.5 L1146.8 240.2 L1146.1 240.9 L1145.4 241.6 L1144.8 240.4 L1144.1 242.0 L1143.4 242.9 L1142.7 244.6 L1142.1 246.2 L1141.4 245.4 L1140.7 244.8 L1140.0 245.0 L1139.4 246.9 L1138.7 248.0 L1138.0 249.9 L1137.3 250.5 L1136.7 251.9 L1136.0 251.8 L1135.3 249.9 L1134.6 250.7 L1134.0 254.9 L1133.3 251.4 L1132.6 255.8 L1132.0 252.4 L1131.3 254.9 L1130.6 256.7 L1129.9 254.7 L1129.3 257.8 L1128.6 257.0 L1127.9 256.0 L1127.2 252.0 L1126.6 252.4 L1125.9 250.8 L1125.2 247.1 L1124.5 245.2 L1123.9 245.4 L1123.2 242.2 L1122.5 241.5 L1121.8 241.2 L1121.2 239.3 L1120.5 239.5 L1119.8 238.6 L1119.1 238.0 L1118.5 237.9 L1117.8 237.9 L1117.1 237.7 L1116.5 237.7 L1115.8 237.9 L1115.1 237.6 L1114.4 238.0 L1113.8 238.2 L1113.1 238.1 L1112.4 237.9 L1111.7 238.0 L1111.1 238.1 L1110.4 237.7 L1109.7 237.6 L1109.0 238.1 L1108.4 238.6 L1107.7 239.1 L1107.0 240.4 L1106.3 241.7 L1105.7 241.2 L1105.0 240.8 L1104.3 240.9 L1103.7 240.8 L1103.0 241.6 L1102.3 241.7 L1101.6 240.2 L1101.0 241.9 L1100.3 240.4 L1099.6 240.6 L1098.9 241.5 L1098.3 240.6 L1097.6 242.1 L1096.9 242.8 L1096.2 243.8 L1095.6 244.3 L1094.9 241.8 L1094.2 245.1 L1093.5 244.2 L1092.9 243.8 L1092.2 244.5 L1091.5 246.1 L1090.9 243.1 L1090.2 247.3 L1089.5 245.3 L1088.8 244.5 L1088.2 244.2 L1087.5 243.9 L1086.8 246.1 L1086.1 244.6 L1085.5 247.7 L1084.8 247.1 L1084.1 245.6 L1083.4 246.3 L1082.8 248.7 L1082.1 250.3 L1081.4 246.1 L1080.7 245.3 L1080.1 246.2 L1079.4 250.4 L1078.7 251.3 L1078.1 245.9 L1077.4 245.8 L1076.7 245.8 L1076.0 249.9 L1075.4 250.5 L1074.7 248.8 L1074.0 246.1 L1073.3 249.6 L1072.7 248.2 L1072.0 248.2 L1071.3 247.2 L1070.6 249.8 L1070.0 248.2 L1069.3 247.3 L1068.6 251.0 L1067.9 247.7 L1067.3 248.8 L1066.6 250.6 L1065.9 251.7 L1065.2 249.0 L1064.6 249.9 L1063.9 250.5 L1063.2 250.9 L1062.6 249.9 L1061.9 254.0 L1061.2 250.5 L1060.5 254.1 L1059.9 254.3 L1059.2 254.0 L1058.5 252.2 L1057.8 250.9 L1057.2 251.9 L1056.5 251.9 L1055.8 250.2 L1055.1 250.0 L1054.5 248.7 L1053.8 250.6 L1053.1 247.5 L1052.4 250.0 L1051.8 247.0 L1051.1 247.0 L1050.4 248.5 L1049.8 245.7 L1049.1 245.2 L1048.4 244.8 L1047.7 249.8 L1047.1 252.8 L1046.4 256.0 L1045.7 252.5 L1045.0 258.4 L1044.4 255.9 L1043.7 264.8 L1043.0 263.9 L1042.3 264.3 L1041.7 275.4 L1041.0 278.5 L1040.3 270.0 L1039.6 280.7 L1039.0 272.2 L1038.3 271.3 L1037.6 287.3 L1037.0 287.9 L1036.3 281.2 L1035.6 281.7 L1034.9 282.7 L1034.3 273.0 L1033.6 287.6 L1032.9 277.3 L1032.2 283.6 L1031.6 274.0 L1030.9 272.5 L1030.2 281.9 L1029.5 276.6 L1028.9 271.5 L1028.2 272.3 L1027.5 273.6 L1026.8 274.1 L1026.2 270.0 L1025.5 280.6 L1024.8 274.3 L1024.2 275.6 L1023.5 274.9 L1022.8 275.6 L1022.1 271.9 L1021.5 267.5 L1020.8 272.6 L1020.1 272.9 L1019.4 268.1 L1018.8 274.9 L1018.1 275.8 L1017.4 275.0 L1016.7 268.5 L1016.1 265.6 L1015.4 263.9 L1014.7 264.7 L1014.0 272.8 L1013.4 264.7 L1012.7 272.3 L1012.0 268.1 L1011.3 262.0 L1010.7 264.3 L1010.0 268.4 L1009.3 267.2 L1008.7 260.0 L1008.0 256.9 L1007.3 255.9 L1006.6 254.7 L1006.0 249.4 L1005.3 248.2 L1004.6 244.4 L1003.9 244.7 L1003.3 245.7 L1002.6 246.2 L1001.9 246.4 L1001.2 247.6 L1000.6 248.7 L999.9 249.8 L999.2 249.8 L998.5 248.6 L997.9 249.5 L997.2 254.0 L996.5 253.6 L995.9 254.8 L995.2 258.9 L994.5 258.1 L993.8 263.9 L993.2 260.5 L992.5 268.7 L991.8 266.0 L991.1 271.8 L990.5 268.8 L989.8 265.8 L989.1 265.9 L988.4 272.5 L987.8 268.4 L987.1 274.1 L986.4 274.0 L985.7 275.1 L985.1 266.7 L984.4 272.9 L983.7 274.4 L983.1 272.5 L982.4 276.3 L981.7 270.4 L981.0 278.6 L980.4 281.8 L979.7 283.4 L979.0 273.8 L978.3 275.4 L977.7 284.6 L977.0 282.1 L976.3 279.4 L975.6 282.0 L975.0 283.5 L974.3 282.7 L973.6 285.9 L972.9 288.8 L972.3 296.3 L971.6 292.9 L970.9 285.1 L970.3 293.4 L969.6 288.5 L968.9 285.9 L968.2 282.6 L967.6 285.0 L966.9 294.4 L966.2 280.9 L965.5 294.9 L964.9 283.7 L964.2 289.3 L963.5 287.7 L962.8 285.3 L962.2 282.0 L961.5 282.2 L960.8 288.8 L960.1 289.4 L959.5 292.4 L958.8 281.4 L958.1 286.5 L957.4 286.0 L956.8 280.5 L956.1 286.6 L955.4 285.5 L954.8 287.8 L954.1 286.1 L953.4 287.2 L952.7 285.8 L952.1 288.4 L951.4 289.3 L950.7 281.2 L950.0 281.2 L949.4 283.4 L948.7 284.5 L948.0 280.2 L947.3 286.5 L946.7 276.8 L946.0 283.4 L945.3 277.0 L944.6 284.1 L944.0 278.1 L943.3 286.7 L942.6 275.9 L942.0 276.3 L941.3 285.5 L940.6 285.7 L939.9 283.2 L939.3 283.3 L938.6 284.1 L937.9 283.1 L937.2 281.3 L936.6 283.1 L935.9 283.9 L935.2 281.9 L934.5 290.1 L933.9 285.8 L933.2 282.9 L932.5 287.3 L931.8 278.8 L931.2 278.6 L930.5 279.1 L929.8 278.8 L929.2 279.6 L928.5 284.3 L927.8 282.2 L927.1 281.5 L926.5 282.6 L925.8 283.3 L925.1 272.0 L924.4 279.1 L923.8 280.1 L923.1 277.3 L922.4 280.5 L921.7 280.0 L921.1 276.4 L920.4 270.9 L919.7 275.1 L919.0 279.5 L918.4 277.7 L917.7 270.5 L917.0 274.7 L916.4 278.9 L915.7 277.7 L915.0 275.1 L914.3 275.3 L913.7 274.6 L913.0 268.4 L912.3 267.6 L911.6 270.8 L911.0 271.9 L910.3 267.4 L909.6 268.0 L908.9 267.9 L908.3 271.5 L907.6 267.4 L906.9 270.4 L906.2 266.7 L905.6 268.8 L904.9 264.1 L904.2 260.2 L903.5 263.2 L902.9 258.9 L902.2 256.5 L901.5 257.8 L900.9 257.3 L900.2 258.1 L899.5 259.7 L898.8 257.7 L898.2 260.0 L897.5 260.0 L896.8 260.7 L896.1 262.1 L895.5 261.5 L894.8 262.8 L894.1 260.5 L893.4 260.1 L892.8 259.6 L892.1 262.3 L891.4 260.6 L890.7 260.3 L890.1 261.3 L889.4 261.5 L888.7 259.4 L888.1 261.3 L887.4 260.1 L886.7 258.0 L886.0 257.5 L885.4 256.6 L884.7 256.4 L884.0 258.7 L883.3 257.0 L882.7 257.8 L882.0 260.6 L881.3 259.3 L880.6 259.4 L880.0 263.8 L879.3 263.7 L878.6 264.0 L877.9 264.4 L877.3 265.7 L876.6 268.8 L875.9 267.9 L875.3 271.6 L874.6 272.7 L873.9 275.0 L873.2 278.5 L872.6 282.4 L871.9 282.3 L871.2 286.7 L870.5 288.1 L869.9 289.9 L869.2 285.6 L868.5 286.0 L867.8 284.7 L867.2 283.8 L866.5 283.0 L865.8 281.0 L865.1 283.2 L864.5 277.9 L863.8 278.1 L863.1 276.4 L862.5 279.2 L861.8 280.0 L861.1 274.7 L860.4 279.7 L859.8 275.6 L859.1 274.5 L858.4 276.7 L857.7 279.7 L857.1 277.7 L856.4 274.8 L855.7 279.5 L855.0 274.6 L854.4 280.5 L853.7 281.2 L853.0 284.3 L852.3 281.9 L851.7 276.1 L851.0 283.5 L850.3 281.8 L849.6 283.1 L849.0 281.8 L848.3 276.4 L847.6 278.0 L847.0 275.9 L846.3 282.4 L845.6 281.1 L844.9 275.2 L844.3 275.8 L843.6 273.4 L842.9 278.6 L842.2 276.3 L841.6 277.8 L840.9 276.7 L840.2 274.2 L839.5 273.7 L838.9 274.0 L838.2 270.4 L837.5 272.5 L836.8 274.6 L836.2 274.0 L835.5 269.7 L834.8 270.3 L834.2 267.7 L833.5 271.2 L832.8 269.0 L832.1 267.0 L831.5 264.7 L830.8 264.3 L830.1 266.7 L829.4 265.8 L828.8 264.3 L828.1 263.5 L827.4 262.2 L826.7 262.1 L826.1 259.8 L825.4 259.5 L824.7 260.5 L824.0 259.3 L823.4 258.2 L822.7 258.1 L822.0 257.5 L821.4 257.0 L820.7 258.0 L820.0 257.0 L819.3 257.2 L818.7 257.6 L818.0 257.6 L817.3 258.1 L816.6 258.8 L816.0 259.6 L815.3 260.9 L814.6 261.3 L813.9 262.5 L813.3 262.5 L812.6 264.4 L811.9 265.1 L811.2 266.1 L810.6 266.5 L809.9 266.8 L809.2 269.3 L808.6 271.2 L807.9 269.1 L807.2 271.5 L806.5 266.9 L805.9 268.0 L805.2 269.8 L804.5 267.6 L803.8 270.5 L803.2 269.5 L802.5 268.0 L801.8 269.5 L801.1 273.1 L800.5 270.3 L799.8 273.0 L799.1 276.5 L798.4 274.1 L797.8 277.5 L797.1 275.3 L796.4 281.6 L795.7 283.0 L795.1 283.7 L794.4 280.6 L793.7 281.4 L793.1 282.2 L792.4 285.3 L791.7 289.0 L791.0 290.9 L790.4 292.4 L789.7 289.2 L789.0 290.6 L788.3 289.2 L787.7 293.5 L787.0 291.5 L786.3 287.7 L785.6 288.3 L785.0 288.3 L784.3 291.2 L783.6 287.9 L782.9 294.6 L782.3 292.1 L781.6 288.6 L780.9 288.8 L780.3 294.2 L779.6 293.4 L778.9 290.5 L778.2 287.8 L777.6 288.0 L776.9 289.3 L776.2 289.5 L775.5 287.9 L774.9 288.8 L774.2 287.5 L773.5 284.0 L772.8 281.6 L772.2 281.5 L771.5 282.9 L770.8 280.0 L770.1 276.5 L769.5 275.1 L768.8 273.6Z" fill="#45a4a2" fill-opacity="0.6"/>
<polyline points="768.8,248.9 771.3,284.6 773.4,244.7 775.7,307.9 777.6,239.5 779.9,303.9 782.4,243.8 784.2,309.4 785.9,245.0 787.6,309.4 790.0,243.8 792.1,295.3 794.0,232.2 796.4,302.1 798.3,237.4 800.6,278.8 802.7,242.4 804.3,277.2 806.4,243.4 808.2,283.2 810.1,232.2 812.6,268.6 814.5,249.7 816.8,259.9 818.9,252.6 820.7,262.8 822.7,243.8 825.2,263.0 827.6,235.1 830.0,275.9 832.6,232.7 834.9,287.5 836.6,227.8 838.5,294.1 840.6,224.9 842.8,305.0 844.6,209.5 846.5,299.8 849.0,219.6 851.4,305.0 853.2,216.2 855.0,300.6 857.4,217.6 859.2,282.0 861.1,239.5 863.3,291.9 865.2,245.4 867.2,297.5 869.2,255.5 871.2,302.1 873.5,254.7 875.3,275.9 877.7,245.3 879.4,267.5 881.7,229.3 883.5,267.1 885.9,236.3 888.3,270.1 890.5,238.0 892.6,267.7 894.7,238.0 896.9,270.1 899.1,234.3 901.4,270.1 903.6,224.9 905.4,284.6 907.5,226.4 909.8,285.7 912.3,217.2 914.2,279.7 916.0,208.9 918.1,299.2 920.3,208.4 922.7,305.0 924.7,201.6 926.5,300.5 928.9,212.8 930.8,306.7 932.7,211.8 935.0,312.3 937.3,221.8 939.1,305.5 940.8,214.8 942.8,313.0 944.6,195.8 946.9,312.4 948.7,216.6 950.9,305.1 953.4,204.5 955.5,315.2 957.5,222.6 959.5,313.4 961.6,205.8 963.6,314.6 965.3,202.1 967.1,326.8 969.6,184.2 972.0,331.9 974.1,215.9 976.4,312.3 978.7,198.7 981.2,289.7 983.5,211.8 985.9,293.4 988.0,217.9 990.1,290.4 991.8,214.7 993.8,266.3 995.6,226.4 998.0,258.4 1000.1,228.6 1002.0,252.6 1004.3,232.2 1006.7,249.7 1008.7,203.1 1010.5,289.0 1012.6,200.6 1014.8,290.9 1016.5,192.9 1018.5,299.2 1020.6,214.0 1022.7,297.1 1025.2,189.1 1027.0,313.0 1029.4,181.2 1031.3,308.1 1033.1,207.9 1034.9,313.8 1036.9,172.5 1038.7,323.9 1040.8,181.2 1042.9,305.0 1044.9,202.0 1046.8,254.0 1048.9,222.0 1051.3,254.8 1053.7,231.1 1055.6,254.0 1058.2,228.6 1060.1,262.8 1061.8,231.2 1064.2,261.3 1066.4,222.7 1068.7,257.3 1070.5,219.1 1072.6,257.7 1074.3,215.2 1076.5,259.9 1078.3,207.4 1080.7,264.2 1082.4,213.3 1084.5,252.5 1086.6,213.3 1088.8,258.4 1091.2,217.7 1093.5,252.5 1095.3,221.7 1097.7,246.8 1100.2,226.4 1102.3,245.3 1104.7,227.8 1107.0,239.5 1109.0,233.7 1111.3,238.9 1113.3,234.9 1115.3,239.5 1117.3,233.7 1119.2,239.5 1121.1,224.9 1123.3,248.2 1125.5,225.1 1128.0,272.2 1130.3,217.6 1132.0,266.8 1133.8,222.1 1136.0,259.5 1138.1,220.6 1140.5,257.7 1142.8,218.3 1144.6,252.2 1146.7,218.7 1149.2,248.2 1151.4,206.0 1153.6,241.9 1155.9,194.3 1157.8,239.5 1160.1,203.8 1162.5,222.0 1164.9,207.4 1167.0,227.0 1168.9,179.8 1171.2,235.1 1173.5,179.1 1175.7,235.5 1177.5,186.7 1179.5,238.0 1181.4,190.0 1183.8,242.1 1186.3,196.0 1188.0,259.9 1190.3,179.8 1192.5,260.2 1194.7,188.5 1196.6,267.9 1199.0,206.4 1201.0,249.3 1202.7,226.4 1204.5,243.8 1206.7,220.4 1208.6,239.5 1211.0,211.3 1213.3,238.0 1215.2,206.0 1217.6,222.4 1220.1,185.4 1222.4,203.1 1224.4,172.5 1226.1,195.5 1228.2,165.9 1230.6,185.5 1232.8,146.3 1235.1,178.3 1236.9,150.0 1238.9,178.3 1241.1,150.7 1243.5,170.2 1245.5,144.8 1247.9,163.8 1249.9,145.9 1251.9,163.8 1254.1,159.4 1256.5,168.1" fill="none" stroke="#168c8a" stroke-width="1.8" stroke-linejoin="round" />
<polyline points="1256.5,168.1 1257.5,163.6 1259.1,173.8 1260.5,174.8 1262.1,184.8 1263.8,194.0 1265.0,202.1 1266.7,208.1 1268.1,216.2 1269.1,218.7 1270.6,224.5 1272.5,234.3 1273.6,233.6 1274.8,238.7 1276.0,238.2 1277.4,236.9 1278.8,229.2 1280.7,232.8 1282.1,232.4 1283.7,241.3 1285.0,231.4 1286.5,227.0 1287.9,236.8 1289.4,232.1 1290.5,237.0 1292.2,240.8 1293.5,239.8 1294.9,239.3 1296.4,239.2 1298.3,237.9 1299.7,239.3 1301.5,246.0 1303.2,243.8 1304.3,236.8 1306.2,236.3 1307.2,229.0" fill="none" stroke="#168c8a" stroke-width="2.1" stroke-linejoin="round" />
<polyline points="768.8,281.0 770.2,281.0 771.5,281.0 772.9,281.0 774.2,281.0 775.6,281.0 776.9,281.0 778.3,281.0 779.6,281.0 781.0,281.0 782.3,281.0 783.7,281.0 785.0,281.0 786.4,281.0 787.7,281.0 789.1,281.0 790.4,281.0 791.8,281.0 793.1,281.0 794.5,281.0 795.8,281.0 797.2,281.0 798.5,281.0 799.9,281.0 801.2,281.0 802.6,281.0 803.9,281.0 805.3,281.0 806.6,281.1 808.0,281.1 809.3,281.1 810.7,281.2 812.0,281.2 813.4,281.2 814.7,281.2 816.1,281.3 817.4,281.3 818.8,281.3 820.1,281.4 821.5,281.4 822.8,281.4 824.2,281.4 825.5,281.5 826.9,281.5 828.2,281.5 829.6,281.6 830.9,281.6 832.3,281.6 833.6,281.6 835.0,281.7 836.3,281.7 837.7,281.7 839.0,281.8 840.4,281.8 841.7,281.8 843.1,281.9 844.4,281.9 845.8,281.9 847.2,281.9 848.5,282.0 849.9,282.0 851.2,282.0 852.6,282.1 853.9,282.1 855.3,282.1 856.6,282.1 858.0,282.2 859.3,282.2 860.7,282.2 862.0,282.3 863.4,282.3 864.7,282.3 866.1,282.3 867.4,282.4 868.8,282.4 870.1,282.3 871.5,282.2 872.8,282.1 874.2,282.0 875.5,281.8 876.9,281.7 878.2,281.5 879.6,281.4 880.9,281.2 882.3,281.1 883.6,280.9 885.0,280.8 886.3,280.7 887.7,280.5 889.0,280.4 890.4,280.2 891.7,280.1 893.1,279.9 894.4,279.8 895.8,279.6 897.1,279.5 898.5,279.3 899.8,279.2 901.2,279.1 902.5,278.9 903.9,278.9 905.2,278.8 906.6,278.8 907.9,278.8 909.3,278.8 910.6,278.8 912.0,278.8 913.3,278.8 914.7,278.8 916.0,278.8 917.4,278.8 918.7,278.8 920.1,278.8 921.4,278.8 922.8,278.8 924.2,278.8 925.5,278.8 926.9,278.8 928.2,278.8 929.6,278.8 930.9,278.8 932.3,278.8 933.6,278.8 935.0,278.8 936.3,278.8 937.7,278.9 939.0,278.9 940.4,279.0 941.7,279.1 943.1,279.2 944.4,279.3 945.8,279.3 947.1,279.4 948.5,279.5 949.8,279.6 951.2,279.7 952.5,279.8 953.9,279.9 955.2,280.0 956.6,280.0 957.9,280.1 959.3,280.2 960.6,280.3 962.0,280.4 963.3,280.5 964.7,280.6 966.0,280.7 967.4,280.7 968.7,280.8 970.1,280.6 971.4,280.3 972.8,279.9 974.1,279.2 975.5,278.5 976.8,277.9 978.2,277.4 979.5,277.0 980.9,276.7 982.2,276.4 983.6,276.2 984.9,275.9 986.3,275.7 987.6,275.4 989.0,275.1 990.3,274.9 991.7,274.7 993.0,274.4 994.4,274.2 995.7,274.0 997.1,273.8 998.4,273.6 999.8,273.4 1001.2,273.2 1002.5,273.0 1003.9,272.8 1005.2,272.6 1006.6,272.5 1007.9,272.5 1009.3,272.5 1010.6,272.6 1012.0,272.8 1013.3,272.9 1014.7,273.1 1016.0,273.3 1017.4,273.5 1018.7,273.6 1020.1,273.8 1021.4,274.0 1022.8,274.1 1024.1,274.2 1025.5,274.3 1026.8,274.3 1028.2,274.3 1029.5,274.3 1030.9,274.2 1032.2,274.2 1033.6,274.2 1034.9,274.1 1036.3,274.1 1037.6,274.0 1039.0,274.0 1040.3,273.8 1041.7,273.7 1043.0,273.5 1044.4,273.4 1045.7,273.2 1047.1,273.0 1048.4,272.8 1049.8,272.6 1051.1,272.5 1052.5,272.3 1053.8,272.1 1055.2,271.9 1056.5,271.7 1057.9,271.5 1059.2,271.2 1060.6,271.0 1061.9,270.8 1063.3,270.6 1064.6,270.4 1066.0,270.2 1067.3,270.0 1068.7,269.8 1070.0,269.6 1071.4,269.5 1072.7,269.3 1074.1,269.2 1075.4,269.1 1076.8,268.9 1078.2,268.8 1079.5,268.6 1080.9,268.5 1082.2,268.3 1083.6,268.2 1084.9,268.0 1086.3,267.9 1087.6,267.7 1089.0,267.6 1090.3,267.4 1091.7,267.2 1093.0,267.1 1094.4,266.9 1095.7,266.7 1097.1,266.5 1098.4,266.2 1099.8,266.0 1101.1,265.8 1102.5,265.5 1103.8,265.3 1105.2,265.1 1106.5,264.8 1107.9,264.6 1109.2,264.4 1110.6,264.2 1111.9,264.0 1113.3,263.8 1114.6,263.6 1116.0,263.5 1117.3,263.3 1118.7,263.1 1120.0,262.9 1121.4,262.8 1122.7,262.6 1124.1,262.5 1125.4,262.5 1126.8,262.5 1128.1,262.5 1129.5,262.5 1130.8,262.5 1132.2,262.5 1133.5,262.5 1134.9,262.5 1136.2,262.4 1137.6,262.2 1138.9,261.9 1140.3,261.5 1141.6,261.0 1143.0,260.4 1144.3,259.9 1145.7,259.3 1147.0,258.8 1148.4,258.2 1149.7,257.7 1151.1,257.1 1152.4,256.5 1153.8,255.9 1155.2,255.3 1156.5,254.7 1157.9,254.1 1159.2,253.5 1160.6,252.8 1161.9,252.2 1163.3,251.7 1164.6,251.3 1166.0,251.1 1167.3,251.1 1168.7,251.3 1170.0,251.7 1171.4,252.0 1172.7,252.4 1174.1,252.7 1175.4,253.1 1176.8,253.5 1178.1,254.0 1179.5,254.6 1180.8,255.2 1182.2,255.9 1183.5,256.7 1184.9,257.4 1186.2,258.1 1187.6,258.9 1188.9,259.6 1190.3,260.3 1191.6,260.9 1193.0,261.3 1194.3,261.6 1195.7,261.8 1197.0,261.9 1198.4,262.0 1199.7,262.1 1201.1,262.2 1202.4,262.2 1203.8,262.3 1205.1,262.3 1206.5,262.1 1207.8,261.9 1209.2,261.6 1210.5,261.2 1211.9,260.8 1213.2,260.4 1214.6,260.0 1215.9,259.6 1217.3,258.9 1218.6,258.1 1220.0,256.9 1221.3,255.5 1222.7,253.9 1224.0,252.1 1225.4,250.4 1226.7,248.8 1228.1,247.1 1229.4,245.6 1230.8,244.1 1232.2,242.6 1233.5,240.6 1234.9,237.9 1236.2,234.9 1237.6,232.0 1238.9,229.2 1240.3,227.1 1241.6,225.7 1243.0,224.9 1244.3,224.3 1245.7,223.8 1247.0,223.5 1248.4,223.9 1249.7,224.9 1251.1,226.4 1252.4,228.5 1253.8,230.9 1255.1,233.5 1256.5,236.3 1257.8,239.6 1259.2,243.2 1260.5,247.4 1261.9,252.1 1263.2,256.8 1264.6,261.1 1265.9,264.9 1267.3,268.0 1268.6,270.4 1270.0,272.3 1271.3,274.1 1272.7,275.6 1274.0,276.6 1275.4,277.3 1276.7,277.7 1278.1,277.8 1279.4,277.9 1280.8,277.9 1282.1,277.8 1283.5,277.7 1284.8,277.3 1286.2,276.7 1287.5,275.9 1288.9,274.9 1290.2,273.7 1291.6,272.5 1292.9,271.3 1294.3,270.0 1295.6,268.8 1297.0,267.6 1298.3,266.4 1299.7,265.1 1301.0,263.9 1302.4,262.7 1303.7,261.4 1305.1,260.2 1306.4,259.2 1307.8,258.5" fill="none" stroke="#8000ff" stroke-width="6.4" stroke-linejoin="round" stroke-dasharray="0 14.5" stroke-linecap="round"/>
<path d="M1441.8 252.2 L1442.5 253.2 L1443.1 251.2 L1443.8 252.9 L1444.5 252.4 L1445.1 252.8 L1445.8 252.3 L1446.5 250.6 L1447.2 254.1 L1447.8 256.1 L1448.5 251.0 L1449.2 250.2 L1449.8 251.6 L1450.5 254.5 L1451.2 257.6 L1451.8 250.0 L1452.5 254.1 L1453.2 253.0 L1453.9 254.9 L1454.5 250.7 L1455.2 251.7 L1455.9 250.3 L1456.5 252.7 L1457.2 257.5 L1457.9 251.6 L1458.5 254.5 L1459.2 255.1 L1459.9 254.7 L1460.6 255.3 L1461.2 256.0 L1461.9 254.3 L1462.6 250.7 L1463.2 251.0 L1463.9 254.3 L1464.6 251.1 L1465.2 250.8 L1465.9 253.6 L1466.6 252.8 L1467.3 252.7 L1467.9 250.1 L1468.6 248.7 L1469.3 251.4 L1469.9 250.2 L1470.6 248.8 L1471.3 249.2 L1471.9 246.6 L1472.6 245.8 L1473.3 245.1 L1474.0 241.7 L1474.6 241.7 L1475.3 242.2 L1476.0 241.8 L1476.6 243.9 L1477.3 242.8 L1478.0 243.1 L1478.6 245.8 L1479.3 244.6 L1480.0 246.2 L1480.7 247.3 L1481.3 246.1 L1482.0 247.1 L1482.7 247.4 L1483.3 248.2 L1484.0 249.3 L1484.7 250.6 L1485.3 250.7 L1486.0 251.2 L1486.7 252.3 L1487.4 252.9 L1488.0 253.1 L1488.7 254.2 L1489.4 253.7 L1490.0 252.7 L1490.7 251.9 L1491.4 251.3 L1492.0 251.3 L1492.7 250.8 L1493.4 250.8 L1494.1 249.6 L1494.7 249.1 L1495.4 250.2 L1496.1 248.4 L1496.7 248.6 L1497.4 248.0 L1498.1 247.1 L1498.7 249.4 L1499.4 248.3 L1500.1 245.5 L1500.8 247.9 L1501.4 245.1 L1502.1 248.0 L1502.8 244.4 L1503.4 247.3 L1504.1 246.9 L1504.8 248.7 L1505.4 244.3 L1506.1 246.8 L1506.8 248.2 L1507.5 247.5 L1508.1 243.4 L1508.8 243.7 L1509.5 245.9 L1510.1 243.0 L1510.8 247.7 L1511.5 247.2 L1512.1 248.6 L1512.8 245.0 L1513.5 243.0 L1514.2 244.1 L1514.8 243.4 L1515.5 246.3 L1516.2 247.0 L1516.8 244.4 L1517.5 240.7 L1518.2 243.0 L1518.8 242.9 L1519.5 245.8 L1520.2 244.8 L1520.9 242.7 L1521.5 243.1 L1522.2 242.7 L1522.9 247.6 L1523.5 242.8 L1524.2 247.6 L1524.9 243.3 L1525.5 248.1 L1526.2 244.7 L1526.9 245.2 L1527.6 248.8 L1528.2 249.4 L1528.9 251.0 L1529.6 252.1 L1530.2 247.7 L1530.9 253.9 L1531.6 250.8 L1532.2 251.0 L1532.9 253.5 L1533.6 252.1 L1534.3 253.1 L1534.9 253.8 L1535.6 256.4 L1536.3 258.5 L1536.9 258.2 L1537.6 256.3 L1538.3 257.5 L1538.9 261.1 L1539.6 262.0 L1540.3 260.5 L1541.0 262.3 L1541.6 261.0 L1542.3 261.7 L1543.0 261.5 L1543.6 262.2 L1544.3 259.7 L1545.0 257.4 L1545.6 257.0 L1546.3 252.9 L1547.0 252.7 L1547.7 251.6 L1548.3 250.2 L1549.0 249.9 L1549.7 249.9 L1550.3 247.7 L1551.0 248.8 L1551.7 250.3 L1552.3 249.1 L1553.0 248.0 L1553.7 249.0 L1554.4 249.9 L1555.0 250.0 L1555.7 249.7 L1556.4 249.8 L1557.0 249.4 L1557.7 248.8 L1558.4 249.0 L1559.0 248.9 L1559.7 249.4 L1560.4 249.9 L1561.1 250.1 L1561.7 250.4 L1562.4 250.8 L1563.1 251.4 L1563.7 251.0 L1564.4 251.8 L1565.1 252.2 L1565.7 252.4 L1566.4 251.9 L1567.1 251.1 L1567.8 250.5 L1568.4 249.8 L1569.1 249.7 L1569.8 249.1 L1570.4 248.1 L1571.1 245.0 L1571.8 247.1 L1572.4 243.8 L1573.1 246.2 L1573.8 246.4 L1574.5 244.9 L1575.1 247.7 L1575.8 246.1 L1576.5 248.7 L1577.1 248.7 L1577.8 246.6 L1578.5 248.2 L1579.1 246.4 L1579.8 245.8 L1580.5 246.2 L1581.2 247.8 L1581.8 244.2 L1582.5 246.9 L1583.2 243.5 L1583.8 246.7 L1584.5 245.1 L1585.2 242.9 L1585.8 244.8 L1586.5 245.1 L1587.2 240.4 L1587.9 243.4 L1588.5 243.8 L1589.2 241.2 L1589.9 238.7 L1590.5 242.9 L1591.2 244.2 L1591.9 240.8 L1592.5 236.0 L1593.2 243.4 L1593.9 238.1 L1594.6 241.2 L1595.2 237.0 L1595.9 241.8 L1596.6 239.8 L1597.2 233.0 L1597.9 237.2 L1598.6 238.0 L1599.2 233.2 L1599.9 232.0 L1600.6 239.9 L1601.3 234.8 L1601.9 240.7 L1602.6 237.4 L1603.3 233.8 L1603.9 240.3 L1604.6 236.5 L1605.3 241.3 L1605.9 236.0 L1606.6 242.4 L1607.3 237.7 L1608.0 241.0 L1608.6 239.7 L1609.3 244.6 L1610.0 244.8 L1610.6 240.1 L1611.3 245.3 L1612.0 238.4 L1612.6 242.7 L1613.3 242.0 L1614.0 245.9 L1614.7 241.4 L1615.3 244.0 L1616.0 238.1 L1616.7 244.8 L1617.3 238.7 L1618.0 240.2 L1618.7 245.0 L1619.3 245.7 L1620.0 242.7 L1620.7 245.3 L1621.4 243.0 L1622.0 241.8 L1622.7 245.0 L1623.4 235.6 L1624.0 235.5 L1624.7 236.5 L1625.4 238.6 L1626.0 234.7 L1626.7 238.9 L1627.4 235.7 L1628.1 244.5 L1628.7 240.9 L1629.4 244.0 L1630.1 234.0 L1630.7 235.1 L1631.4 240.6 L1632.1 236.4 L1632.7 240.7 L1633.4 240.1 L1634.1 242.2 L1634.8 242.8 L1635.4 233.4 L1636.1 239.3 L1636.8 232.4 L1637.4 232.2 L1638.1 239.2 L1638.8 234.8 L1639.4 238.7 L1640.1 240.4 L1640.8 234.9 L1641.5 231.4 L1642.1 241.8 L1642.8 230.8 L1643.5 231.4 L1644.1 234.4 L1644.8 237.4 L1645.5 242.3 L1646.1 238.0 L1646.8 239.6 L1647.5 235.8 L1648.2 235.7 L1648.8 238.4 L1649.5 241.9 L1650.2 236.2 L1650.8 238.0 L1651.5 242.1 L1652.2 237.5 L1652.8 242.6 L1653.5 238.1 L1654.2 239.6 L1654.9 239.2 L1655.5 241.5 L1656.2 242.8 L1656.9 244.9 L1657.5 245.1 L1658.2 244.0 L1658.9 241.1 L1659.5 243.9 L1660.2 243.8 L1660.9 243.4 L1661.6 246.9 L1662.2 246.1 L1662.9 245.7 L1663.6 244.3 L1664.2 246.2 L1664.9 245.1 L1665.6 246.6 L1666.2 246.1 L1666.9 246.6 L1667.6 247.4 L1668.3 246.1 L1668.9 247.2 L1669.6 246.5 L1670.3 248.0 L1670.9 246.5 L1671.6 247.7 L1672.3 246.6 L1672.9 248.0 L1673.6 247.7 L1674.3 247.4 L1675.0 246.6 L1675.6 247.8 L1676.3 247.3 L1677.0 246.0 L1677.6 245.5 L1678.3 245.2 L1679.0 246.0 L1679.6 243.6 L1680.3 241.9 L1681.0 244.2 L1681.7 240.3 L1682.3 241.4 L1683.0 242.2 L1683.7 241.8 L1684.3 241.2 L1685.0 241.3 L1685.7 239.5 L1686.3 239.5 L1687.0 236.6 L1687.7 237.7 L1688.4 233.7 L1689.0 236.5 L1689.7 234.9 L1690.4 236.1 L1691.0 235.6 L1691.7 230.7 L1692.4 237.3 L1693.0 231.9 L1693.7 233.0 L1694.4 235.1 L1695.1 231.5 L1695.7 230.2 L1696.4 226.9 L1697.1 224.1 L1697.7 228.7 L1698.4 227.6 L1699.1 222.3 L1699.7 231.0 L1700.4 220.7 L1701.1 219.5 L1701.8 223.1 L1702.4 218.2 L1703.1 220.9 L1703.8 217.1 L1704.4 226.7 L1705.1 218.3 L1705.8 221.7 L1706.4 229.3 L1707.1 230.2 L1707.8 233.5 L1708.5 228.4 L1709.1 230.7 L1709.8 232.7 L1710.5 230.9 L1711.1 226.1 L1711.8 227.3 L1712.5 229.0 L1713.1 235.6 L1713.8 235.4 L1714.5 233.6 L1715.2 237.4 L1715.8 235.6 L1716.5 240.5 L1717.2 241.1 L1717.8 237.2 L1718.5 239.7 L1719.2 241.0 L1719.8 245.3 L1720.5 244.7 L1721.2 246.2 L1721.9 245.7 L1722.5 244.1 L1723.2 244.2 L1723.9 244.6 L1724.5 242.7 L1725.2 242.0 L1725.9 240.0 L1726.5 240.8 L1727.2 241.0 L1727.9 236.0 L1728.6 235.2 L1729.2 233.9 L1729.9 236.9 L1730.6 237.0 L1731.2 237.3 L1731.9 233.2 L1732.6 237.9 L1733.2 237.4 L1733.9 232.6 L1734.6 233.9 L1735.3 233.7 L1735.9 233.5 L1736.6 230.8 L1737.3 228.3 L1737.9 232.8 L1738.6 226.0 L1739.3 229.3 L1739.9 225.7 L1740.6 223.2 L1741.3 227.5 L1742.0 229.3 L1742.6 220.3 L1743.3 229.6 L1744.0 224.9 L1744.6 218.9 L1745.3 219.8 L1746.0 223.2 L1746.6 229.3 L1747.3 227.9 L1748.0 232.5 L1748.7 232.8 L1749.3 232.0 L1750.0 220.7 L1750.7 219.6 L1751.3 220.0 L1752.0 227.6 L1752.7 231.7 L1753.3 227.2 L1754.0 229.5 L1754.7 224.8 L1755.4 235.4 L1756.0 233.3 L1756.7 232.0 L1757.4 228.0 L1758.0 225.0 L1758.7 234.9 L1759.4 231.7 L1760.0 228.6 L1760.7 236.7 L1761.4 238.1 L1762.1 229.3 L1762.7 236.9 L1763.4 231.6 L1764.1 233.2 L1764.7 234.4 L1765.4 233.7 L1766.1 236.3 L1766.7 234.7 L1767.4 237.1 L1768.1 236.1 L1768.8 236.5 L1769.4 241.3 L1770.1 237.3 L1770.8 242.1 L1771.4 239.3 L1772.1 241.8 L1772.8 244.2 L1773.4 244.7 L1774.1 243.3 L1774.8 248.0 L1775.5 246.9 L1776.1 249.5 L1776.8 247.7 L1777.5 246.8 L1778.1 248.0 L1778.8 247.7 L1779.5 246.9 L1780.1 246.5 L1780.8 243.9 L1781.5 244.4 L1782.2 241.8 L1782.8 243.0 L1783.5 241.0 L1784.2 242.1 L1784.8 242.7 L1785.5 241.0 L1786.2 242.1 L1786.8 241.8 L1787.5 241.4 L1788.2 241.9 L1788.9 242.6 L1789.5 241.6 L1790.2 241.7 L1790.9 240.5 L1791.5 241.4 L1792.2 241.6 L1792.9 242.5 L1793.5 241.4 L1794.2 241.2 L1794.9 239.5 L1795.6 240.7 L1796.2 239.6 L1796.9 237.4 L1797.6 236.6 L1798.2 237.3 L1798.9 234.4 L1799.6 231.9 L1800.2 236.2 L1800.9 236.3 L1801.6 232.9 L1802.3 234.1 L1802.9 232.7 L1803.6 226.4 L1804.3 226.6 L1804.9 225.4 L1805.6 231.9 L1806.3 229.0 L1806.9 225.7 L1807.6 224.6 L1808.3 223.7 L1809.0 224.5 L1809.6 226.7 L1810.3 224.9 L1811.0 222.9 L1811.6 220.7 L1812.3 219.9 L1813.0 219.9 L1813.6 218.3 L1814.3 214.5 L1815.0 215.6 L1815.7 224.6 L1816.3 222.6 L1817.0 223.7 L1817.7 222.6 L1818.3 216.7 L1819.0 219.3 L1819.7 220.9 L1820.3 219.3 L1821.0 223.4 L1821.7 220.1 L1822.4 225.1 L1823.0 226.4 L1823.7 225.3 L1824.4 224.9 L1825.0 224.7 L1825.7 224.8 L1826.4 226.7 L1827.0 229.8 L1827.7 228.7 L1828.4 230.3 L1829.1 231.4 L1829.7 233.8 L1830.4 235.2 L1831.1 234.2 L1831.7 233.5 L1832.4 231.6 L1833.1 232.7 L1833.7 231.7 L1834.4 230.3 L1835.1 228.3 L1835.8 227.2 L1836.4 225.2 L1837.1 222.6 L1837.8 227.1 L1838.4 224.2 L1839.1 225.7 L1839.8 227.1 L1840.4 227.1 L1841.1 224.3 L1841.8 226.5 L1842.5 230.1 L1843.1 227.4 L1843.8 231.7 L1844.5 228.2 L1845.1 232.0 L1845.8 231.4 L1846.5 230.3 L1847.1 227.7 L1847.8 228.5 L1848.5 227.9 L1849.2 232.0 L1849.8 231.6 L1850.5 228.9 L1851.2 228.8 L1851.8 228.7 L1852.5 224.7 L1853.2 227.9 L1853.8 225.7 L1854.5 222.7 L1855.2 224.6 L1855.9 218.6 L1856.5 222.2 L1857.2 215.8 L1857.9 218.9 L1858.5 214.0 L1859.2 217.5 L1859.9 213.7 L1860.5 215.5 L1861.2 214.1 L1861.9 212.2 L1862.6 215.8 L1863.2 219.7 L1863.9 216.8 L1864.6 220.2 L1865.2 220.6 L1865.9 222.7 L1866.6 224.5 L1867.2 225.1 L1867.9 223.1 L1868.6 224.0 L1869.3 225.1 L1869.9 224.9 L1870.6 225.4 L1871.3 224.7 L1871.9 224.6 L1872.6 225.0 L1873.3 222.6 L1873.9 223.7 L1874.6 225.3 L1875.3 224.0 L1876.0 224.1 L1876.6 222.9 L1877.3 222.7 L1878.0 222.3 L1878.6 222.9 L1879.3 222.3 L1880.0 219.8 L1880.6 218.1 L1881.3 219.1 L1882.0 216.2 L1882.7 216.0 L1883.3 215.8 L1884.0 215.7 L1884.7 215.0 L1885.3 214.5 L1886.0 215.3 L1886.7 215.3 L1887.3 215.2 L1888.0 215.7 L1888.7 215.9 L1889.4 216.3 L1890.0 216.6 L1890.7 216.7 L1891.4 216.7 L1892.0 216.6 L1892.7 215.6 L1893.4 216.2 L1894.0 215.4 L1894.7 215.9 L1895.4 215.4 L1896.1 215.6 L1896.7 215.0 L1897.4 214.8 L1898.1 215.1 L1898.7 214.8 L1899.4 214.2 L1900.1 214.4 L1900.7 214.4 L1901.4 214.2 L1902.1 213.7 L1902.8 214.0 L1903.4 213.1 L1904.1 213.1 L1904.8 213.3 L1905.4 212.7 L1906.1 212.9 L1906.8 212.9 L1907.4 212.7 L1908.1 212.1 L1908.8 212.4 L1909.5 211.8 L1910.1 212.0 L1910.8 211.7 L1911.5 211.9 L1912.1 212.2 L1912.8 211.9 L1913.5 212.8 L1914.1 212.6 L1914.8 212.7 L1915.5 213.0 L1916.2 213.3 L1916.8 213.2 L1917.5 213.4 L1918.2 213.9 L1918.8 213.7 L1919.5 213.9 L1920.2 214.6 L1920.8 214.7 L1921.5 214.1 L1922.2 214.4 L1922.9 214.6 L1923.5 215.3 L1924.2 214.8 L1924.2 219.2 L1923.5 218.8 L1922.9 218.6 L1922.2 218.1 L1921.5 218.3 L1920.8 218.0 L1920.2 217.4 L1919.5 217.5 L1918.8 217.1 L1918.2 217.6 L1917.5 217.4 L1916.8 217.3 L1916.2 217.0 L1915.5 216.5 L1914.8 216.6 L1914.1 215.9 L1913.5 215.6 L1912.8 215.6 L1912.1 215.2 L1911.5 214.9 L1910.8 215.1 L1910.1 214.9 L1909.5 215.0 L1908.8 215.4 L1908.1 215.7 L1907.4 216.1 L1906.8 215.8 L1906.1 215.8 L1905.4 215.8 L1904.8 216.6 L1904.1 216.4 L1903.4 216.7 L1902.8 217.0 L1902.1 217.2 L1901.4 217.6 L1900.7 217.2 L1900.1 218.0 L1899.4 218.1 L1898.7 217.9 L1898.1 218.3 L1897.4 218.1 L1896.7 218.9 L1896.1 218.9 L1895.4 219.1 L1894.7 218.9 L1894.0 219.1 L1893.4 219.6 L1892.7 220.0 L1892.0 219.6 L1891.4 220.0 L1890.7 220.3 L1890.0 221.0 L1889.4 221.6 L1888.7 222.5 L1888.0 222.2 L1887.3 223.2 L1886.7 223.4 L1886.0 224.7 L1885.3 223.7 L1884.7 224.4 L1884.0 224.9 L1883.3 226.3 L1882.7 226.4 L1882.0 228.8 L1881.3 229.0 L1880.6 230.3 L1880.0 231.0 L1879.3 230.6 L1878.6 233.8 L1878.0 234.6 L1877.3 233.8 L1876.6 234.0 L1876.0 235.1 L1875.3 234.6 L1874.6 234.2 L1873.9 236.6 L1873.3 235.3 L1872.6 237.1 L1871.9 237.9 L1871.3 238.4 L1870.6 235.9 L1869.9 236.3 L1869.3 237.0 L1868.6 237.7 L1867.9 236.7 L1867.2 239.8 L1866.6 239.6 L1865.9 239.3 L1865.2 241.1 L1864.6 238.9 L1863.9 239.9 L1863.2 238.4 L1862.6 242.2 L1861.9 241.8 L1861.2 240.7 L1860.5 243.7 L1859.9 243.0 L1859.2 245.9 L1858.5 243.5 L1857.9 244.5 L1857.2 246.0 L1856.5 242.9 L1855.9 245.4 L1855.2 246.1 L1854.5 246.2 L1853.8 247.1 L1853.2 248.2 L1852.5 246.0 L1851.8 250.5 L1851.2 248.2 L1850.5 250.6 L1849.8 251.4 L1849.2 250.3 L1848.5 251.7 L1847.8 252.5 L1847.1 252.6 L1846.5 251.2 L1845.8 252.0 L1845.1 254.0 L1844.5 250.5 L1843.8 252.4 L1843.1 253.9 L1842.5 252.0 L1841.8 253.5 L1841.1 250.1 L1840.4 249.2 L1839.8 247.4 L1839.1 251.6 L1838.4 250.4 L1837.8 248.2 L1837.1 250.4 L1836.4 249.5 L1835.8 246.9 L1835.1 245.0 L1834.4 247.4 L1833.7 246.2 L1833.1 246.2 L1832.4 246.3 L1831.7 245.1 L1831.1 244.0 L1830.4 244.8 L1829.7 245.2 L1829.1 249.0 L1828.4 249.8 L1827.7 250.8 L1827.0 253.7 L1826.4 258.5 L1825.7 253.7 L1825.0 260.9 L1824.4 259.9 L1823.7 262.3 L1823.0 260.6 L1822.4 264.3 L1821.7 260.5 L1821.0 268.5 L1820.3 263.7 L1819.7 263.9 L1819.0 264.4 L1818.3 264.7 L1817.7 264.0 L1817.0 263.4 L1816.3 262.9 L1815.7 258.0 L1815.0 259.3 L1814.3 259.1 L1813.6 260.9 L1813.0 263.6 L1812.3 260.7 L1811.6 258.1 L1811.0 257.3 L1810.3 260.9 L1809.6 262.3 L1809.0 265.7 L1808.3 266.2 L1807.6 268.3 L1806.9 267.3 L1806.3 262.8 L1805.6 263.8 L1804.9 270.9 L1804.3 264.0 L1803.6 271.1 L1802.9 263.3 L1802.3 265.1 L1801.6 265.6 L1800.9 261.0 L1800.2 262.9 L1799.6 262.6 L1798.9 262.0 L1798.2 258.1 L1797.6 259.1 L1796.9 257.9 L1796.2 254.4 L1795.6 252.9 L1794.9 253.5 L1794.2 250.8 L1793.5 250.4 L1792.9 250.9 L1792.2 249.6 L1791.5 250.8 L1790.9 250.5 L1790.2 251.1 L1789.5 251.0 L1788.9 250.7 L1788.2 249.9 L1787.5 250.0 L1786.8 250.8 L1786.2 249.8 L1785.5 251.0 L1784.8 251.7 L1784.2 251.5 L1783.5 250.8 L1782.8 252.5 L1782.2 254.7 L1781.5 254.4 L1780.8 255.4 L1780.1 258.9 L1779.5 259.4 L1778.8 260.1 L1778.1 263.0 L1777.5 265.6 L1776.8 264.6 L1776.1 263.4 L1775.5 263.4 L1774.8 262.8 L1774.1 264.2 L1773.4 264.2 L1772.8 260.7 L1772.1 264.0 L1771.4 260.4 L1770.8 260.6 L1770.1 262.4 L1769.4 261.0 L1768.8 265.5 L1768.1 268.1 L1767.4 271.2 L1766.7 273.3 L1766.1 267.8 L1765.4 276.8 L1764.7 275.2 L1764.1 275.0 L1763.4 277.6 L1762.7 282.5 L1762.1 275.4 L1761.4 286.9 L1760.7 282.5 L1760.0 281.0 L1759.4 281.0 L1758.7 280.8 L1758.0 287.4 L1757.4 283.9 L1756.7 293.3 L1756.0 292.4 L1755.4 288.8 L1754.7 290.9 L1754.0 298.0 L1753.3 302.9 L1752.7 290.9 L1752.0 288.9 L1751.3 291.8 L1750.7 302.6 L1750.0 303.5 L1749.3 287.7 L1748.7 287.1 L1748.0 286.3 L1747.3 298.6 L1746.6 300.1 L1746.0 294.2 L1745.3 284.6 L1744.6 295.6 L1744.0 290.2 L1743.3 289.5 L1742.6 283.7 L1742.0 289.9 L1741.3 282.2 L1740.6 277.0 L1739.9 285.8 L1739.3 274.2 L1738.6 275.8 L1737.9 279.0 L1737.3 280.2 L1736.6 271.4 L1735.9 272.3 L1735.3 272.3 L1734.6 272.0 L1733.9 268.4 L1733.2 276.8 L1732.6 267.2 L1731.9 274.0 L1731.2 273.2 L1730.6 271.1 L1729.9 265.8 L1729.2 263.7 L1728.6 266.0 L1727.9 266.3 L1727.2 263.5 L1726.5 263.3 L1725.9 261.4 L1725.2 264.3 L1724.5 260.1 L1723.9 263.1 L1723.2 259.4 L1722.5 259.3 L1721.9 260.3 L1721.2 258.8 L1720.5 259.4 L1719.8 260.1 L1719.2 263.3 L1718.5 264.1 L1717.8 265.0 L1717.2 260.6 L1716.5 263.8 L1715.8 261.6 L1715.2 267.7 L1714.5 266.7 L1713.8 266.9 L1713.1 274.1 L1712.5 276.8 L1711.8 271.1 L1711.1 279.2 L1710.5 273.3 L1709.8 272.8 L1709.1 283.0 L1708.5 281.6 L1707.8 276.5 L1707.1 276.7 L1706.4 277.2 L1705.8 269.5 L1705.1 280.6 L1704.4 272.3 L1703.8 277.1 L1703.1 269.1 L1702.4 268.1 L1701.8 275.9 L1701.1 271.7 L1700.4 267.9 L1699.7 268.6 L1699.1 269.9 L1698.4 270.5 L1697.7 267.5 L1697.1 275.7 L1696.4 271.1 L1695.7 272.2 L1695.1 271.8 L1694.4 272.5 L1693.7 269.9 L1693.0 266.9 L1692.4 270.1 L1691.7 269.8 L1691.0 266.1 L1690.4 270.1 L1689.7 270.1 L1689.0 268.9 L1688.4 264.4 L1687.7 262.2 L1687.0 260.7 L1686.3 260.6 L1685.7 264.3 L1685.0 259.6 L1684.3 262.6 L1683.7 260.0 L1683.0 256.7 L1682.3 257.4 L1681.7 258.7 L1681.0 257.8 L1680.3 255.7 L1679.6 255.1 L1679.0 255.4 L1678.3 255.7 L1677.6 254.0 L1677.0 254.5 L1676.3 253.4 L1675.6 253.2 L1675.0 253.6 L1674.3 253.6 L1673.6 253.4 L1672.9 253.8 L1672.3 254.1 L1671.6 254.4 L1670.9 254.1 L1670.3 253.2 L1669.6 253.5 L1668.9 255.6 L1668.3 255.3 L1667.6 255.8 L1666.9 257.8 L1666.2 257.3 L1665.6 260.1 L1664.9 258.3 L1664.2 262.3 L1663.6 260.9 L1662.9 263.8 L1662.2 263.0 L1661.6 262.1 L1660.9 262.9 L1660.2 267.6 L1659.5 265.8 L1658.9 270.1 L1658.2 270.5 L1657.5 271.8 L1656.9 266.3 L1656.2 271.3 L1655.5 272.2 L1654.9 270.6 L1654.2 273.2 L1653.5 268.8 L1652.8 274.5 L1652.2 276.6 L1651.5 277.5 L1650.8 270.7 L1650.2 271.7 L1649.5 277.9 L1648.8 276.8 L1648.2 275.5 L1647.5 277.9 L1646.8 279.5 L1646.1 279.5 L1645.5 282.4 L1644.8 285.1 L1644.1 291.4 L1643.5 289.4 L1642.8 283.9 L1642.1 290.9 L1641.5 287.5 L1640.8 286.0 L1640.1 283.8 L1639.4 286.3 L1638.8 293.6 L1638.1 282.3 L1637.4 293.4 L1636.8 284.0 L1636.1 288.3 L1635.4 286.7 L1634.8 284.4 L1634.1 281.4 L1633.4 281.3 L1632.7 286.3 L1632.1 286.6 L1631.4 288.7 L1630.7 279.5 L1630.1 283.3 L1629.4 282.6 L1628.7 278.3 L1628.1 283.5 L1627.4 282.8 L1626.7 284.9 L1626.0 283.6 L1625.4 284.8 L1624.7 283.9 L1624.0 286.3 L1623.4 287.4 L1622.7 280.8 L1622.0 281.1 L1621.4 283.2 L1620.7 284.4 L1620.0 281.1 L1619.3 286.4 L1618.7 278.5 L1618.0 283.8 L1617.3 278.7 L1616.7 284.1 L1616.0 279.4 L1615.3 285.5 L1614.7 276.7 L1614.0 276.5 L1613.3 283.2 L1612.6 282.8 L1612.0 280.4 L1611.3 280.0 L1610.6 280.1 L1610.0 278.9 L1609.3 277.0 L1608.6 277.6 L1608.0 277.3 L1607.3 274.9 L1606.6 280.5 L1605.9 276.2 L1605.3 273.7 L1604.6 276.9 L1603.9 270.1 L1603.3 269.8 L1602.6 269.9 L1601.9 269.5 L1601.3 269.8 L1600.6 273.0 L1599.9 271.2 L1599.2 270.4 L1598.6 271.9 L1597.9 273.1 L1597.2 265.8 L1596.6 271.4 L1595.9 272.8 L1595.2 271.3 L1594.6 274.1 L1593.9 274.2 L1593.2 272.1 L1592.5 268.6 L1591.9 272.2 L1591.2 275.9 L1590.5 275.0 L1589.9 270.1 L1589.2 273.7 L1588.5 276.6 L1587.9 275.4 L1587.2 273.0 L1586.5 272.7 L1585.8 271.9 L1585.2 267.0 L1584.5 266.1 L1583.8 268.1 L1583.2 268.4 L1582.5 265.0 L1581.8 265.1 L1581.2 264.6 L1580.5 266.6 L1579.8 263.6 L1579.1 265.0 L1578.5 263.6 L1577.8 265.7 L1577.1 263.4 L1576.5 261.5 L1575.8 264.6 L1575.1 262.2 L1574.5 261.2 L1573.8 263.3 L1573.1 262.3 L1572.4 262.4 L1571.8 262.6 L1571.1 259.6 L1570.4 260.3 L1569.8 259.1 L1569.1 258.5 L1568.4 258.5 L1567.8 257.3 L1567.1 257.0 L1566.4 255.3 L1565.7 254.5 L1565.1 254.4 L1564.4 254.9 L1563.7 254.5 L1563.1 254.4 L1562.4 254.7 L1561.7 254.8 L1561.1 254.3 L1560.4 255.0 L1559.7 254.8 L1559.0 254.3 L1558.4 254.6 L1557.7 254.8 L1557.0 255.3 L1556.4 256.8 L1555.7 256.8 L1555.0 257.0 L1554.4 258.3 L1553.7 257.5 L1553.0 257.3 L1552.3 259.7 L1551.7 259.5 L1551.0 259.3 L1550.3 259.3 L1549.7 259.8 L1549.0 261.9 L1548.3 261.2 L1547.7 264.4 L1547.0 265.4 L1546.3 267.5 L1545.6 270.5 L1545.0 273.9 L1544.3 273.9 L1543.6 277.7 L1543.0 279.0 L1542.3 280.6 L1541.6 277.3 L1541.0 277.7 L1540.3 276.9 L1539.6 276.2 L1538.9 275.7 L1538.3 274.4 L1537.6 276.0 L1536.9 272.2 L1536.3 272.4 L1535.6 271.2 L1534.9 273.4 L1534.3 274.1 L1533.6 270.7 L1532.9 274.4 L1532.2 271.8 L1531.6 271.3 L1530.9 273.0 L1530.2 275.3 L1529.6 274.2 L1528.9 272.4 L1528.2 275.5 L1527.6 271.9 L1526.9 276.0 L1526.2 276.3 L1525.5 278.5 L1524.9 276.9 L1524.2 272.6 L1523.5 278.4 L1522.9 277.3 L1522.2 278.5 L1521.5 277.7 L1520.9 273.6 L1520.2 275.0 L1519.5 273.4 L1518.8 278.8 L1518.2 277.5 L1517.5 272.7 L1516.8 272.9 L1516.2 271.1 L1515.5 275.0 L1514.8 273.3 L1514.2 274.6 L1513.5 273.7 L1512.8 271.7 L1512.1 271.3 L1511.5 272.2 L1510.8 269.5 L1510.1 272.2 L1509.5 275.0 L1508.8 275.3 L1508.1 271.6 L1507.5 272.8 L1506.8 270.7 L1506.1 274.3 L1505.4 271.8 L1504.8 269.4 L1504.1 266.8 L1503.4 266.3 L1502.8 268.7 L1502.1 267.6 L1501.4 265.9 L1500.8 264.9 L1500.1 263.4 L1499.4 263.2 L1498.7 260.6 L1498.1 260.5 L1497.4 261.9 L1496.7 260.9 L1496.1 260.0 L1495.4 260.2 L1494.7 258.9 L1494.1 257.9 L1493.4 258.4 L1492.7 256.7 L1492.0 256.5 L1491.4 256.9 L1490.7 256.8 L1490.0 257.4 L1489.4 257.3 L1488.7 257.4 L1488.0 257.7 L1487.4 257.5 L1486.7 257.8 L1486.0 257.3 L1485.3 258.2 L1484.7 257.8 L1484.0 257.7 L1483.3 257.3 L1482.7 257.0 L1482.0 257.7 L1481.3 259.0 L1480.7 258.3 L1480.0 260.2 L1479.3 257.6 L1478.6 258.7 L1478.0 260.5 L1477.3 259.0 L1476.6 262.1 L1476.0 261.6 L1475.3 260.3 L1474.6 261.7 L1474.0 265.3 L1473.3 262.2 L1472.6 264.8 L1471.9 267.8 L1471.3 265.7 L1470.6 268.6 L1469.9 267.0 L1469.3 271.8 L1468.6 273.0 L1467.9 273.4 L1467.3 271.2 L1466.6 271.8 L1465.9 272.3 L1465.2 274.7 L1464.6 277.6 L1463.9 279.1 L1463.2 280.4 L1462.6 277.5 L1461.9 278.7 L1461.2 278.2 L1460.6 282.9 L1459.9 281.9 L1459.2 279.0 L1458.5 280.4 L1457.9 280.4 L1457.2 283.4 L1456.5 280.3 L1455.9 287.2 L1455.2 284.7 L1454.5 281.5 L1453.9 282.0 L1453.2 287.9 L1452.5 287.5 L1451.8 284.8 L1451.2 282.4 L1450.5 283.0 L1449.8 284.6 L1449.2 285.2 L1448.5 283.8 L1447.8 284.1 L1447.2 282.1 L1446.5 277.9 L1445.8 274.9 L1445.1 274.0 L1444.5 274.4 L1443.8 270.9 L1443.1 267.0 L1442.5 264.9 L1441.8 262.8Z" fill="#ff5050" fill-opacity="0.5"/>
<polyline points="1441.8,244.7 1444.0,270.9 1446.3,245.3 1448.4,304.3 1450.4,234.5 1452.8,301.9 1454.5,241.8 1456.9,301.4 1458.8,236.0 1461.3,295.9 1463.7,240.6 1465.7,287.6 1467.8,237.4 1470.2,283.9 1472.1,236.7 1474.4,273.0 1476.6,230.1 1479.0,265.6 1481.4,241.8 1483.5,263.6 1485.5,247.2 1487.8,259.2 1489.8,252.0 1491.7,260.7 1493.9,247.6 1495.9,262.6 1498.0,238.9 1499.8,270.9 1501.8,240.1 1504.2,275.0 1506.7,230.1 1509.1,288.3 1511.0,228.7 1512.7,289.0 1514.8,240.1 1516.7,292.2 1518.5,221.4 1520.9,297.0 1523.0,230.1 1525.1,294.1 1527.0,227.2 1529.4,281.1 1531.6,246.8 1533.7,281.7 1535.4,246.1 1537.1,281.8 1539.5,250.6 1541.5,290.5 1543.3,252.7 1545.0,281.2 1547.4,241.8 1549.5,267.9 1551.3,243.1 1553.3,261.0 1555.0,245.7 1557.4,257.8 1559.4,246.1 1561.3,255.5 1563.5,249.1 1565.5,256.3 1567.4,250.5 1569.9,265.9 1572.0,234.5 1573.9,273.8 1576.1,238.8 1578.6,273.8 1581.1,238.1 1582.8,276.2 1584.9,241.7 1587.1,286.3 1589.1,222.9 1590.8,292.7 1593.1,227.1 1595.1,288.4 1597.2,221.2 1599.0,289.0 1601.2,215.6 1603.4,285.8 1605.8,225.9 1607.7,301.4 1609.9,218.5 1612.4,301.6 1614.3,217.7 1616.5,304.5 1618.9,214.9 1620.7,308.7 1622.5,218.7 1624.8,301.9 1626.7,219.3 1628.5,308.7 1630.7,212.7 1633.2,309.7 1635.4,209.8 1637.4,320.3 1639.8,205.4 1642.3,320.3 1644.4,205.4 1646.7,306.8 1648.8,218.5 1650.8,297.0 1652.6,227.8 1654.8,287.8 1656.8,227.9 1659.1,281.0 1661.5,230.1 1663.3,268.9 1665.6,238.1 1667.9,257.8 1670.0,243.2 1671.9,257.4 1674.1,246.3 1675.8,257.8 1677.7,243.2 1679.4,261.8 1681.6,230.1 1684.1,269.4 1686.3,231.0 1688.1,269.8 1689.8,220.1 1692.0,292.7 1694.1,211.2 1696.4,286.8 1698.3,207.3 1700.4,295.4 1702.4,190.9 1704.7,304.3 1706.9,206.1 1709.1,308.7 1711.3,199.6 1713.8,286.9 1716.1,221.4 1717.8,279.6 1719.9,238.9 1721.7,266.5 1723.9,235.0 1725.7,273.6 1727.8,229.8 1729.6,288.3 1731.8,215.6 1734.1,295.0 1736.0,205.1 1738.2,311.6 1740.5,195.2 1742.8,314.2 1744.8,182.2 1747.0,333.4 1749.6,180.7 1751.8,342.1 1753.6,188.0 1755.7,333.4 1757.9,201.0 1760.3,317.4 1762.1,199.6 1764.6,292.8 1767.0,219.4 1769.2,275.2 1771.1,225.8 1773.0,273.6 1775.3,238.9 1777.2,275.2 1779.0,238.0 1781.3,256.3 1783.7,236.0 1786.0,255.6 1788.1,239.2 1790.3,253.0 1792.3,236.0 1794.3,256.3 1796.7,228.9 1798.7,271.9 1800.9,217.2 1802.7,291.2 1804.6,206.9 1806.5,285.1 1808.9,200.8 1811.0,283.2 1813.3,193.8 1815.4,283.9 1817.6,196.5 1819.8,277.4 1822.0,196.7 1823.9,292.7 1826.3,214.5 1828.7,250.5 1830.5,228.7 1833.0,251.5 1835.1,217.8 1837.3,263.6 1839.7,208.3 1841.4,262.8 1843.7,214.2 1845.5,267.9 1847.4,219.6 1849.4,260.7 1851.5,218.5 1853.3,259.6 1855.3,211.1 1857.3,260.5 1859.2,195.2 1861.4,260.7 1863.4,210.8 1865.4,247.6 1867.8,215.6 1869.8,243.7 1871.6,218.8 1873.8,241.4 1875.7,217.1 1877.7,241.1 1879.7,218.2 1881.6,232.2 1883.9,208.3 1886.3,231.6 1888.4,214.2 1890.9,222.9 1893.1,213.7 1895.1,221.4 1896.9,213.3 1898.6,218.7 1900.7,212.2 1902.9,218.5 1905.2,211.2 1907.5,217.4 1909.4,209.8 1911.6,217.1 1913.6,211.6 1915.8,217.3 1918.1,211.6 1920.0,219.9 1921.7,212.7 1923.8,221.4" fill="none" stroke="#ff1010" stroke-width="1.6" stroke-linejoin="round" />
<polyline points="1923.8,221.4 1924.5,213.6 1925.3,211.2 1926.1,206.4 1926.9,197.8 1927.7,194.8 1928.5,186.6 1929.3,176.4 1930.1,169.1 1930.9,158.8 1931.7,150.3 1932.5,136.9 1933.3,128.3 1934.1,116.5 1934.9,107.4 1935.7,100.9 1936.5,92.6 1937.3,86.6 1938.2,82.7 1939.0,73.6 1939.8,70.5 1940.6,76.4 1941.4,81.7 1942.2,84.3 1943.0,90.9 1943.8,95.5 1944.6,102.3 1945.4,108.6 1946.2,116.9 1947.0,123.5 1947.8,131.0 1948.6,140.6 1949.4,146.5 1950.2,157.2 1951.0,163.9 1951.8,169.2 1952.6,176.2 1953.4,183.9 1954.2,187.4 1955.0,190.9 1955.8,195.1 1956.6,198.0 1957.4,198.7 1958.3,201.9 1959.1,199.7 1959.9,202.2 1960.7,203.1 1961.5,204.4 1962.3,204.5 1963.1,204.6 1963.9,207.7 1964.7,208.4 1965.5,208.6 1966.3,210.6 1967.1,210.5 1967.9,211.6 1968.7,213.0 1969.5,213.1 1970.3,214.6 1971.1,217.1 1971.9,214.4 1972.7,217.2 1973.5,217.4 1974.3,218.0 1975.1,216.7 1975.9,217.2 1976.7,219.2 1977.5,220.2" fill="none" stroke="#ff1010" stroke-width="2.1" stroke-linejoin="round" />
<polyline points="1441.8,281.5 1443.1,281.4 1444.5,281.4 1445.8,281.4 1447.2,281.4 1448.5,281.4 1449.9,281.3 1451.2,281.3 1452.5,281.3 1453.9,281.3 1455.2,281.2 1456.6,281.2 1457.9,281.2 1459.3,281.2 1460.6,281.1 1462.0,281.1 1463.3,281.1 1464.6,281.1 1466.0,281.1 1467.3,281.0 1468.7,281.0 1470.0,281.0 1471.4,281.0 1472.7,280.9 1474.0,280.9 1475.4,280.9 1476.7,280.9 1478.1,280.8 1479.4,280.8 1480.8,280.8 1482.1,280.8 1483.4,280.7 1484.8,280.7 1486.1,280.7 1487.5,280.7 1488.8,280.7 1490.2,280.6 1491.5,280.6 1492.8,280.6 1494.2,280.6 1495.5,280.5 1496.9,280.5 1498.2,280.5 1499.6,280.5 1500.9,280.4 1502.3,280.4 1503.6,280.4 1504.9,280.4 1506.3,280.4 1507.6,280.3 1509.0,280.3 1510.3,280.3 1511.7,280.3 1513.0,280.3 1514.3,280.3 1515.7,280.2 1517.0,280.2 1518.4,280.2 1519.7,280.2 1521.1,280.2 1522.4,280.2 1523.7,280.2 1525.1,280.2 1526.4,280.2 1527.8,280.1 1529.1,280.1 1530.5,280.1 1531.8,280.1 1533.1,280.1 1534.5,280.1 1535.8,280.1 1537.2,280.1 1538.5,280.1 1539.9,280.0 1541.2,280.0 1542.6,280.0 1543.9,280.0 1545.2,280.0 1546.6,280.0 1547.9,279.9 1549.3,279.9 1550.6,279.9 1552.0,279.9 1553.3,279.9 1554.6,279.9 1556.0,279.8 1557.3,279.8 1558.7,279.8 1560.0,279.8 1561.4,279.8 1562.7,279.8 1564.0,279.7 1565.4,279.7 1566.7,279.7 1568.1,279.7 1569.4,279.7 1570.8,279.6 1572.1,279.6 1573.4,279.6 1574.8,279.6 1576.1,279.5 1577.5,279.4 1578.8,279.3 1580.2,279.2 1581.5,279.1 1582.9,279.0 1584.2,278.9 1585.5,278.8 1586.9,278.7 1588.2,278.6 1589.6,278.5 1590.9,278.4 1592.3,278.2 1593.6,278.1 1594.9,278.0 1596.3,277.9 1597.6,277.8 1599.0,277.7 1600.3,277.6 1601.7,277.6 1603.0,277.6 1604.3,277.6 1605.7,277.7 1607.0,277.9 1608.4,278.0 1609.7,278.2 1611.1,278.3 1612.4,278.5 1613.7,278.6 1615.1,278.8 1616.4,278.9 1617.8,279.0 1619.1,279.2 1620.5,279.3 1621.8,279.5 1623.2,279.7 1624.5,279.9 1625.8,280.2 1627.2,280.4 1628.5,280.7 1629.9,280.9 1631.2,281.2 1632.6,281.4 1633.9,281.6 1635.2,281.8 1636.6,281.8 1637.9,281.8 1639.3,281.7 1640.6,281.6 1642.0,281.4 1643.3,281.2 1644.6,281.0 1646.0,280.8 1647.3,280.6 1648.7,280.4 1650.0,280.2 1651.4,280.0 1652.7,279.8 1654.1,279.5 1655.4,279.3 1656.7,279.1 1658.1,278.9 1659.4,278.7 1660.8,278.5 1662.1,278.3 1663.5,278.0 1664.8,277.8 1666.1,277.6 1667.5,277.4 1668.8,277.2 1670.2,277.0 1671.5,276.8 1672.9,276.6 1674.2,276.4 1675.5,276.2 1676.9,275.9 1678.2,275.8 1679.6,275.6 1680.9,275.6 1682.3,275.5 1683.6,275.5 1684.9,275.5 1686.3,275.5 1687.6,275.5 1689.0,275.5 1690.3,275.5 1691.7,275.5 1693.0,275.5 1694.4,275.5 1695.7,275.6 1697.0,275.7 1698.4,275.8 1699.7,276.0 1701.1,276.2 1702.4,276.4 1703.8,276.5 1705.1,276.7 1706.4,276.9 1707.8,277.1 1709.1,277.3 1710.5,277.4 1711.8,277.5 1713.2,277.6 1714.5,277.7 1715.8,277.8 1717.2,277.9 1718.5,278.0 1719.9,278.1 1721.2,278.2 1722.6,278.3 1723.9,278.4 1725.2,278.4 1726.6,278.4 1727.9,278.4 1729.3,278.3 1730.6,278.2 1732.0,278.0 1733.3,277.9 1734.7,277.8 1736.0,277.7 1737.3,277.5 1738.7,277.4 1740.0,277.3 1741.4,277.1 1742.7,276.9 1744.1,276.7 1745.4,276.4 1746.7,276.1 1748.1,275.8 1749.4,275.5 1750.8,275.1 1752.1,274.8 1753.5,274.6 1754.8,274.3 1756.1,274.1 1757.5,274.0 1758.8,273.8 1760.2,273.6 1761.5,273.4 1762.9,273.3 1764.2,273.1 1765.5,272.9 1766.9,272.7 1768.2,272.6 1769.6,272.4 1770.9,272.2 1772.3,272.1 1773.6,271.9 1775.0,271.8 1776.3,271.8 1777.6,271.8 1779.0,271.9 1780.3,272.0 1781.7,272.2 1783.0,272.4 1784.4,272.6 1785.7,272.7 1787.0,272.9 1788.4,273.1 1789.7,273.3 1791.1,273.4 1792.4,273.5 1793.8,273.5 1795.1,273.5 1796.4,273.3 1797.8,273.1 1799.1,272.9 1800.5,272.7 1801.8,272.5 1803.2,272.3 1804.5,272.1 1805.9,272.0 1807.2,271.8 1808.5,271.6 1809.9,271.4 1811.2,271.2 1812.6,271.1 1813.9,270.9 1815.3,270.8 1816.6,270.7 1817.9,270.5 1819.3,270.4 1820.6,270.3 1822.0,270.1 1823.3,270.0 1824.7,269.8 1826.0,269.6 1827.3,269.4 1828.7,269.2 1830.0,269.0 1831.4,268.8 1832.7,268.6 1834.1,268.4 1835.4,268.2 1836.7,267.9 1838.1,267.8 1839.4,267.7 1840.8,267.6 1842.1,267.7 1843.5,267.7 1844.8,267.7 1846.2,267.5 1847.5,267.3 1848.8,267.1 1850.2,266.9 1851.5,266.7 1852.9,266.5 1854.2,266.3 1855.6,266.0 1856.9,265.7 1858.2,265.4 1859.6,265.0 1860.9,264.5 1862.3,264.1 1863.6,263.7 1865.0,263.2 1866.3,262.8 1867.6,262.3 1869.0,261.9 1870.3,261.4 1871.7,261.0 1873.0,260.3 1874.4,259.6 1875.7,258.7 1877.0,257.7 1878.4,256.6 1879.7,255.5 1881.1,254.4 1882.4,253.3 1883.8,252.4 1885.1,251.6 1886.5,250.9 1887.8,250.3 1889.1,249.7 1890.5,249.1 1891.8,248.6 1893.2,248.0 1894.5,247.4 1895.9,247.0 1897.2,246.9 1898.5,247.0 1899.9,247.4 1901.2,248.1 1902.6,248.9 1903.9,249.9 1905.3,251.2 1906.6,252.6 1907.9,254.2 1909.3,255.7 1910.6,256.8 1912.0,257.7 1913.3,258.3 1914.7,258.7 1916.0,259.2 1917.3,259.7 1918.7,260.3 1920.0,261.0 1921.4,261.7 1922.7,262.4 1924.1,263.2 1925.4,263.6 1926.8,263.2 1928.1,262.1 1929.4,260.2 1930.8,257.6 1932.1,254.7 1933.5,252.1 1934.8,249.7 1936.2,247.5 1937.5,245.4 1938.8,243.4 1940.2,241.7 1941.5,240.1 1942.9,238.6 1944.2,237.4 1945.6,236.4 1946.9,235.4 1948.2,234.6 1949.6,234.1 1950.9,234.1 1952.3,234.4 1953.6,235.2 1955.0,236.5 1956.3,238.1 1957.6,240.0 1959.0,242.0 1960.3,243.9 1961.7,245.7 1963.0,247.4 1964.4,249.0 1965.7,250.5 1967.1,251.9 1968.4,253.4 1969.7,254.8 1971.1,256.2 1972.4,257.3 1973.8,258.3 1975.1,259.2 1976.5,259.8 1977.8,260.2" fill="none" stroke="#8000ff" stroke-width="6.4" stroke-linejoin="round" stroke-dasharray="0 14.5" stroke-linecap="round"/>
<path d="M96.5 347.9V355.1M96.5 13.5V19.6M130.1 347.9V351.5M130.1 13.5V16.6M163.7 347.9V355.1M163.7 13.5V19.6M197.3 347.9V351.5M197.3 13.5V16.6M230.9 347.9V355.1M230.9 13.5V19.6M264.5 347.9V351.5M264.5 13.5V16.6M298.1 347.9V355.1M298.1 13.5V19.6M331.7 347.9V351.5M331.7 13.5V16.6M365.2 347.9V355.1M365.2 13.5V19.6M398.8 347.9V351.5M398.8 13.5V16.6M432.4 347.9V355.1M432.4 13.5V19.6M466.0 347.9V351.5M466.0 13.5V16.6M499.6 347.9V355.1M499.6 13.5V19.6M533.2 347.9V351.5M533.2 13.5V16.6M566.8 347.9V355.1M566.8 13.5V19.6M600.4 347.9V351.5M600.4 13.5V16.6M634.0 347.9V355.1M634.0 13.5V19.6M96.5 340.7H92.9M634.0 340.7H630.9M96.5 304.3H89.3M634.0 304.3H627.9M96.5 267.9H92.9M634.0 267.9H630.9M96.5 231.6H89.3M634.0 231.6H627.9M96.5 195.2H92.9M634.0 195.2H630.9M96.5 158.9H89.3M634.0 158.9H627.9M96.5 122.6H92.9M634.0 122.6H630.9M96.5 86.2H89.3M634.0 86.2H627.9M96.5 49.8H92.9M634.0 49.8H630.9M96.5 13.5H89.3M634.0 13.5H627.9" stroke="#686868" stroke-width="2.8" fill="none"/><rect x="96.5" y="13.5" width="537.5" height="334.4" fill="none" stroke="#686868" stroke-width="2.8" stroke-linejoin="round"/>
<path d="M768.8 348.7V355.9M768.8 13.8V19.9M802.5 348.7V352.3M802.5 13.8V16.9M836.2 348.7V355.9M836.2 13.8V19.9M869.9 348.7V352.3M869.9 13.8V16.9M903.5 348.7V355.9M903.5 13.8V19.9M937.2 348.7V352.3M937.2 13.8V16.9M970.9 348.7V355.9M970.9 13.8V19.9M1004.6 348.7V352.3M1004.6 13.8V16.9M1038.3 348.7V355.9M1038.3 13.8V19.9M1072.0 348.7V352.3M1072.0 13.8V16.9M1105.7 348.7V355.9M1105.7 13.8V19.9M1139.4 348.7V352.3M1139.4 13.8V16.9M1173.0 348.7V355.9M1173.0 13.8V19.9M1206.7 348.7V352.3M1206.7 13.8V16.9M1240.4 348.7V355.9M1240.4 13.8V19.9M1274.1 348.7V352.3M1274.1 13.8V16.9M1307.8 348.7V355.9M1307.8 13.8V19.9M768.8 341.4H765.2M1307.8 341.4H1304.7M768.8 305.0H761.6M1307.8 305.0H1301.7M768.8 268.6H765.2M1307.8 268.6H1304.7M768.8 232.2H761.6M1307.8 232.2H1301.7M768.8 195.8H765.2M1307.8 195.8H1304.7M768.8 159.4H761.6M1307.8 159.4H1301.7M768.8 123.0H765.2M1307.8 123.0H1304.7M768.8 86.6H761.6M1307.8 86.6H1301.7M768.8 50.2H765.2M1307.8 50.2H1304.7M768.8 13.8H761.6M1307.8 13.8H1301.7" stroke="#686868" stroke-width="2.8" fill="none"/><rect x="768.8" y="13.8" width="539.0" height="334.9" fill="none" stroke="#686868" stroke-width="2.8" stroke-linejoin="round"/>
<path d="M1441.8 347.9V355.1M1441.8 13.5V19.6M1475.3 347.9V351.5M1475.3 13.5V16.6M1508.8 347.9V355.1M1508.8 13.5V19.6M1542.3 347.9V351.5M1542.3 13.5V16.6M1575.8 347.9V355.1M1575.8 13.5V19.6M1609.3 347.9V351.5M1609.3 13.5V16.6M1642.8 347.9V355.1M1642.8 13.5V19.6M1676.3 347.9V351.5M1676.3 13.5V16.6M1709.8 347.9V355.1M1709.8 13.5V19.6M1743.3 347.9V351.5M1743.3 13.5V16.6M1776.8 347.9V355.1M1776.8 13.5V19.6M1810.3 347.9V351.5M1810.3 13.5V16.6M1843.8 347.9V355.1M1843.8 13.5V19.6M1877.3 347.9V351.5M1877.3 13.5V16.6M1910.8 347.9V355.1M1910.8 13.5V19.6M1944.3 347.9V351.5M1944.3 13.5V16.6M1977.8 347.9V355.1M1977.8 13.5V19.6M1441.8 340.7H1438.2M1977.8 340.7H1974.7M1441.8 304.3H1434.6M1977.8 304.3H1971.7M1441.8 267.9H1438.2M1977.8 267.9H1974.7M1441.8 231.6H1434.6M1977.8 231.6H1971.7M1441.8 195.2H1438.2M1977.8 195.2H1974.7M1441.8 158.9H1434.6M1977.8 158.9H1971.7M1441.8 122.6H1438.2M1977.8 122.6H1974.7M1441.8 86.2H1434.6M1977.8 86.2H1971.7M1441.8 49.8H1438.2M1977.8 49.8H1974.7M1441.8 13.5H1434.6M1977.8 13.5H1971.7" stroke="#686868" stroke-width="2.8" fill="none"/><rect x="1441.8" y="13.5" width="536.0" height="334.4" fill="none" stroke="#686868" stroke-width="2.8" stroke-linejoin="round"/>
<g font-size="29" fill="#111" stroke="#111" stroke-width="0.4"><text x="96.5" y="382.2" text-anchor="middle">2</text><text x="163.7" y="382.2" text-anchor="middle">3</text><text x="230.9" y="382.2" text-anchor="middle">4</text><text x="298.1" y="382.2" text-anchor="middle">5</text><text x="365.2" y="382.2" text-anchor="middle">6</text><text x="432.4" y="382.2" text-anchor="middle">7</text><text x="499.6" y="382.2" text-anchor="middle">8</text><text x="566.8" y="382.2" text-anchor="middle">9</text><text x="634.0" y="382.2" text-anchor="middle">10</text><text x="85.7" y="312.7" text-anchor="end">0.0</text><text x="85.7" y="240.0" text-anchor="end">0.5</text><text x="85.7" y="167.3" text-anchor="end">1.0</text><text x="85.7" y="94.6" text-anchor="end">1.5</text><text x="85.7" y="21.9" text-anchor="end">2.0</text></g><text x="365.2" y="414.4" text-anchor="middle" font-size="31.5" fill="#111" stroke="#111" stroke-width="0.5" textLength="238" lengthAdjust="spacingAndGlyphs">Frequency (GHz)</text><text transform="translate(24.3,181.6) rotate(-90)" text-anchor="middle" font-size="32" fill="#111" stroke="#111" stroke-width="0.5" textLength="239.5" lengthAdjust="spacingAndGlyphs">Group delay (µs)</text><text x="353.5" y="451.8" text-anchor="middle" font-size="32.5" fill="#111" stroke="#111" stroke-width="0.4">(a)</text>
<g font-size="29" fill="#111" stroke="#111" stroke-width="0.4"><text x="768.8" y="383.0" text-anchor="middle">2</text><text x="836.2" y="383.0" text-anchor="middle">3</text><text x="903.5" y="383.0" text-anchor="middle">4</text><text x="970.9" y="383.0" text-anchor="middle">5</text><text x="1038.3" y="383.0" text-anchor="middle">6</text><text x="1105.7" y="383.0" text-anchor="middle">7</text><text x="1173.0" y="383.0" text-anchor="middle">8</text><text x="1240.4" y="383.0" text-anchor="middle">9</text><text x="1307.8" y="383.0" text-anchor="middle">10</text><text x="758.0" y="313.4" text-anchor="end">0.0</text><text x="758.0" y="240.6" text-anchor="end">0.5</text><text x="758.0" y="167.8" text-anchor="end">1.0</text><text x="758.0" y="95.0" text-anchor="end">1.5</text><text x="758.0" y="22.2" text-anchor="end">2.0</text></g><text x="1038.3" y="415.2" text-anchor="middle" font-size="31.5" fill="#111" stroke="#111" stroke-width="0.5" textLength="238" lengthAdjust="spacingAndGlyphs">Frequency (GHz)</text><text transform="translate(696.6,182.1) rotate(-90)" text-anchor="middle" font-size="32" fill="#111" stroke="#111" stroke-width="0.5" textLength="239.5" lengthAdjust="spacingAndGlyphs">Group delay (µs)</text><text x="1004.2" y="451.8" text-anchor="middle" font-size="32.5" fill="#111" stroke="#111" stroke-width="0.4">(b)</text>
<g font-size="29" fill="#111" stroke="#111" stroke-width="0.4"><text x="1441.8" y="382.2" text-anchor="middle">2</text><text x="1508.8" y="382.2" text-anchor="middle">3</text><text x="1575.8" y="382.2" text-anchor="middle">4</text><text x="1642.8" y="382.2" text-anchor="middle">5</text><text x="1709.8" y="382.2" text-anchor="middle">6</text><text x="1776.8" y="382.2" text-anchor="middle">7</text><text x="1843.8" y="382.2" text-anchor="middle">8</text><text x="1910.8" y="382.2" text-anchor="middle">9</text><text x="1977.8" y="382.2" text-anchor="middle">10</text><text x="1431.0" y="312.7" text-anchor="end">0.0</text><text x="1431.0" y="240.0" text-anchor="end">0.5</text><text x="1431.0" y="167.3" text-anchor="end">1.0</text><text x="1431.0" y="94.6" text-anchor="end">1.5</text><text x="1431.0" y="21.9" text-anchor="end">2.0</text></g><text x="1709.8" y="414.4" text-anchor="middle" font-size="31.5" fill="#111" stroke="#111" stroke-width="0.5" textLength="238" lengthAdjust="spacingAndGlyphs">Frequency (GHz)</text><text transform="translate(1369.6,181.6) rotate(-90)" text-anchor="middle" font-size="32" fill="#111" stroke="#111" stroke-width="0.5" textLength="239.5" lengthAdjust="spacingAndGlyphs">Group delay (µs)</text><text x="1688.6" y="451.8" text-anchor="middle" font-size="32.5" fill="#111" stroke="#111" stroke-width="0.4">(c)</text>
<rect x="110.2" y="23.3" width="183.5" height="66.6" fill="#fff" stroke="#d9d9d9" stroke-width="1.6"/><line x1="113.2" y1="41.8" x2="169.2" y2="41.8" stroke="#55b0ad" stroke-width="3"/><text x="175.7" y="50.4" font-size="25" fill="#111" stroke="#111" stroke-width="0.35">ON - Exp</text><line x1="113.2" y1="72.7" x2="169.2" y2="72.7" stroke="#f44" stroke-width="3"/><text x="175.7" y="81.3" font-size="25" fill="#111" stroke="#111" stroke-width="0.35">OFF - Exp</text>
<rect x="782.0" y="23.3" width="171.4" height="66.6" fill="#fff" stroke="#d9d9d9" stroke-width="1.6"/><line x1="785.0" y1="41.8" x2="841.0" y2="41.8" stroke="#55b0ad" stroke-width="3"/><text x="847.5" y="50.4" font-size="25" fill="#111" stroke="#111" stroke-width="0.35">ON - Exp</text><circle cx="785.3" cy="72.7" r="3.2" fill="#7a00ff"/><circle cx="799.9" cy="72.7" r="3.2" fill="#7a00ff"/><circle cx="814.5" cy="72.7" r="3.2" fill="#7a00ff"/><circle cx="829.1" cy="72.7" r="3.2" fill="#7a00ff"/><text x="847.5" y="81.3" font-size="25" fill="#111" stroke="#111" stroke-width="0.35">ON - Sim</text>
<rect x="1455.0" y="23.3" width="181.7" height="66.6" fill="#fff" stroke="#d9d9d9" stroke-width="1.6"/><line x1="1458.0" y1="41.8" x2="1514.0" y2="41.8" stroke="#f44" stroke-width="3"/><text x="1520.5" y="50.4" font-size="25" fill="#111" stroke="#111" stroke-width="0.35">OFF - Exp</text><circle cx="1458.3" cy="72.7" r="3.2" fill="#7a00ff"/><circle cx="1472.9" cy="72.7" r="3.2" fill="#7a00ff"/><circle cx="1487.5" cy="72.7" r="3.2" fill="#7a00ff"/><circle cx="1502.1" cy="72.7" r="3.2" fill="#7a00ff"/><text x="1520.5" y="81.3" font-size="25" fill="#111" stroke="#111" stroke-width="0.35">OFF - Sim</text></g></svg>
</body></html>
